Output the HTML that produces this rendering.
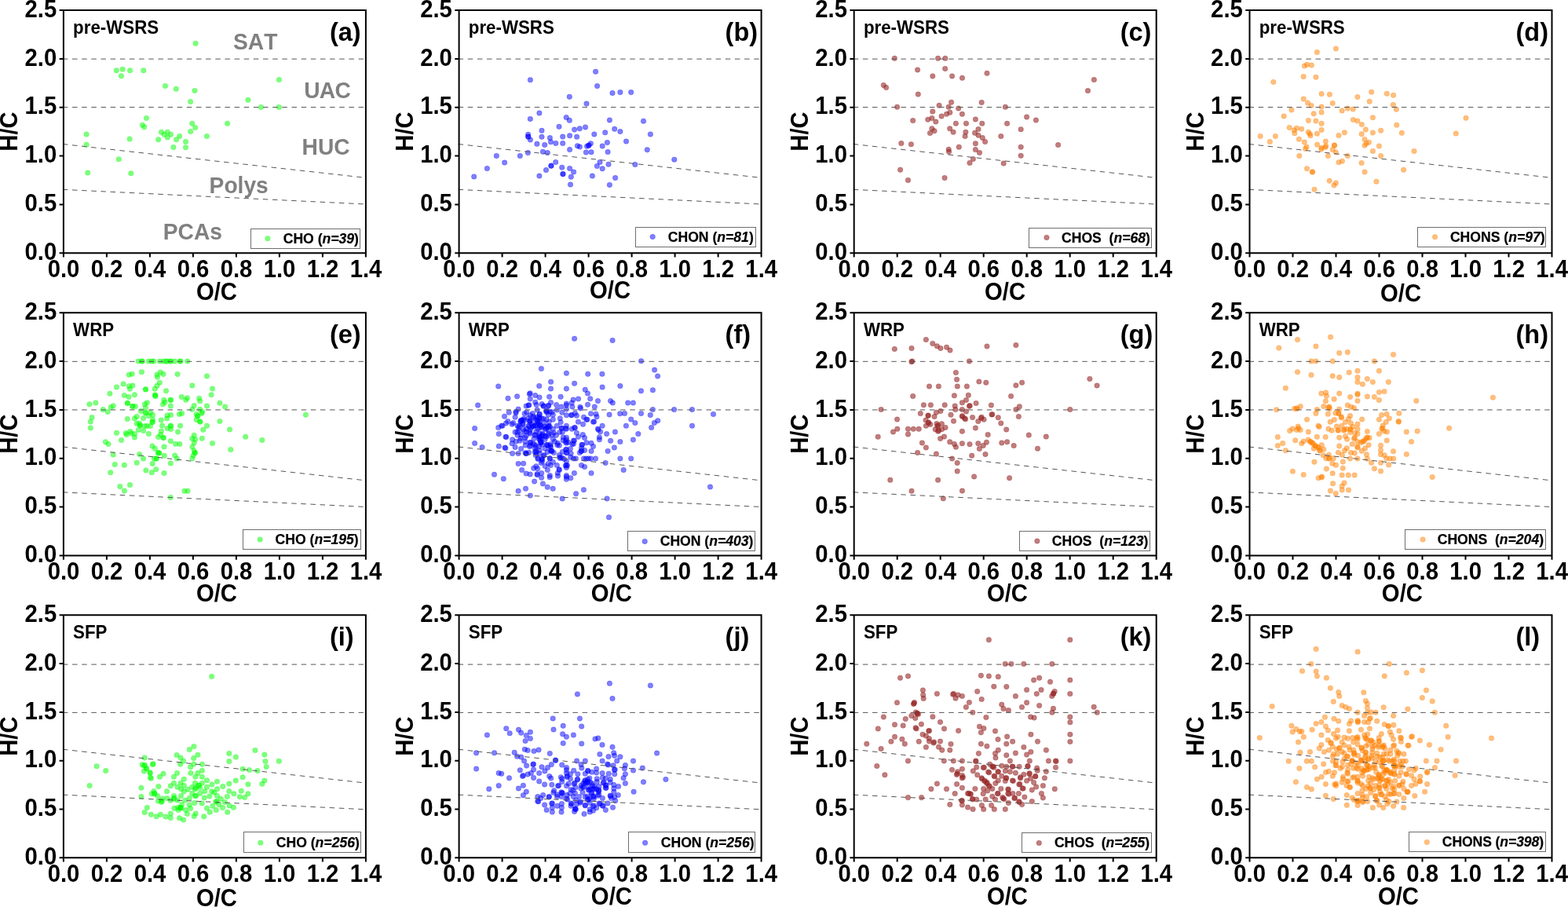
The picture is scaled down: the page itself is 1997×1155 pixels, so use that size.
<!DOCTYPE html>
<html lang="en"><head><meta charset="utf-8"><title>Van Krevelen diagrams</title>
<style>html,body{margin:0;padding:0;background:#fff}body{width:1997px;height:1155px;overflow:hidden}svg{display:block}text{font-family:"Liberation Sans",Arial,sans-serif;font-weight:bold;fill:#000;font-kerning:none}.t{font-size:29.3px}.tl{font-size:22.3px}.tg{font-size:32.5px}.lg{font-size:17.6px;stroke:#000;stroke-width:.2px}.rg{font-size:28.2px;fill:#808080;font-kerning:none}.ax{stroke:#000;stroke-width:2;fill:none}.d{stroke:#555;stroke-width:1;stroke-dasharray:6.5 5.65;fill:none}.lb{fill:#fff;stroke:#6e6e6e;stroke-width:1}</style></head><body>
<svg width="1997" height="1155" viewBox="0 0 1997 1155">
<rect width="1997" height="1155" fill="#fff"/>
<g id="panel-a">
<text class="rg" transform="translate(297 62.7) scale(1 1.04)">SAT</text>
<text class="rg" transform="translate(387.2 124.7) scale(1 1.04)" letter-spacing="-0.75">UAC</text>
<text class="rg" transform="translate(384.6 196.7) scale(1 1.04)">HUC</text>
<text class="rg" transform="translate(266.6 245.7) scale(1 1.04)">Polys</text>
<text class="rg" transform="translate(207.8 304.7) scale(1 1.04)">PCAs</text>
<g fill="#00ff00" fill-opacity="0.5" stroke="#00ff00" stroke-opacity="0.5" stroke-width="0.5">
<circle cx="249.1" cy="55.3" r="3.25"/><circle cx="148.3" cy="89.8" r="3.25"/><circle cx="156.1" cy="88.2" r="3.25"/><circle cx="165.6" cy="89.8" r="3.25"/><circle cx="154.4" cy="96.7" r="3.25"/><circle cx="182.8" cy="89.8" r="3.25"/><circle cx="210.5" cy="109.4" r="3.25"/><circle cx="224.3" cy="113.2" r="3.25"/><circle cx="248.0" cy="115.4" r="3.25"/><circle cx="355.4" cy="101.6" r="3.25"/><circle cx="242.6" cy="129.4" r="3.25"/><circle cx="315.9" cy="127.3" r="3.25"/><circle cx="332.5" cy="136.4" r="3.25"/><circle cx="355.4" cy="136.4" r="3.25"/><circle cx="186.5" cy="150.4" r="3.25"/><circle cx="181.4" cy="159.3" r="3.25"/><circle cx="183.7" cy="161.8" r="3.25"/><circle cx="244.7" cy="157.2" r="3.25"/><circle cx="248.6" cy="162.6" r="3.25"/><circle cx="289.6" cy="157.3" r="3.25"/><circle cx="242.7" cy="167.4" r="3.25"/><circle cx="110.1" cy="171.0" r="3.25"/><circle cx="205.5" cy="168.2" r="3.25"/><circle cx="213.3" cy="168.2" r="3.25"/><circle cx="209.1" cy="171.2" r="3.25"/><circle cx="217.4" cy="171.2" r="3.25"/><circle cx="213.3" cy="174.9" r="3.25"/><circle cx="228.7" cy="173.4" r="3.25"/><circle cx="263.4" cy="173.6" r="3.25"/><circle cx="165.1" cy="176.9" r="3.25"/><circle cx="201.6" cy="177.7" r="3.25"/><circle cx="224.6" cy="177.7" r="3.25"/><circle cx="236.5" cy="180.4" r="3.25"/><circle cx="110.1" cy="184.3" r="3.25"/><circle cx="220.9" cy="187.6" r="3.25"/><circle cx="236.5" cy="187.8" r="3.25"/><circle cx="151.3" cy="202.8" r="3.25"/><circle cx="111.7" cy="220.1" r="3.25"/><circle cx="166.8" cy="220.8" r="3.25"/>
</g>
<path class="d" d="M79.9 75.12H465.9M79.9 136.59H465.9M79.9 183.48L465.9 226.38M79.9 241.34L465.9 260.01"/>
<path class="ax" d="M80.9 13.1H465.9V322.2H80.9ZM80.9 322.2v5.3M135.9 322.2v5.3M190.9 322.2v5.3M245.9 322.2v5.3M300.9 322.2v5.3M355.9 322.2v5.3M410.9 322.2v5.3M465.9 322.2v5.3M80.9 322.2h-5.3M80.9 260.4h-5.3M80.9 198.6h-5.3M80.9 136.7h-5.3M80.9 74.9h-5.3M80.9 13.1h-5.3"/>
<text class="t" text-anchor="middle" transform="translate(81 352.6) scale(1 1.04)">0.0</text>
<text class="t" text-anchor="middle" transform="translate(136 352.6) scale(1 1.04)">0.2</text>
<text class="t" text-anchor="middle" transform="translate(191 352.6) scale(1 1.04)">0.4</text>
<text class="t" text-anchor="middle" transform="translate(246 352.6) scale(1 1.04)">0.6</text>
<text class="t" text-anchor="middle" transform="translate(301 352.6) scale(1 1.04)">0.8</text>
<text class="t" text-anchor="middle" transform="translate(356 352.6) scale(1 1.04)">1.0</text>
<text class="t" text-anchor="middle" transform="translate(411 352.6) scale(1 1.04)">1.2</text>
<text class="t" text-anchor="middle" transform="translate(466 352.6) scale(1 1.04)">1.4</text>
<text class="t" text-anchor="end" transform="translate(72.2 330.9) scale(1 1.04)">0.0</text>
<text class="t" text-anchor="end" transform="translate(72.2 269.08) scale(1 1.04)">0.5</text>
<text class="t" text-anchor="end" transform="translate(72.2 207.26) scale(1 1.04)">1.0</text>
<text class="t" text-anchor="end" transform="translate(72.2 145.44) scale(1 1.04)">1.5</text>
<text class="t" text-anchor="end" transform="translate(72.2 83.62) scale(1 1.04)">2.0</text>
<text class="t" text-anchor="end" transform="translate(72.2 21.8) scale(1 1.04)">2.5</text>
<text class="t" text-anchor="middle" transform="translate(275.95 382) scale(1 1.04)">O/C</text>
<text class="t" text-anchor="middle" transform="translate(22.2 167.45) rotate(-90) scale(1 1.04)">H/C</text>
<text class="tl" transform="translate(93.1 42.8) scale(1 1.04)">pre-WSRS</text>
<text class="tg" transform="translate(419.9 52.2)">(a)</text>
<rect class="lb" x="319.5" y="291.5" width="139" height="25"/>
<circle cx="340.9" cy="303.7" r="3.25" fill="#00ff00" fill-opacity="0.5" stroke="#00ff00" stroke-opacity="0.5" stroke-width="0.5"/>
<text class="lg" transform="translate(360.7 310) scale(1 1.04)">CHO&#160;(<tspan font-style="italic">n=39</tspan>)</text>
</g>
<g id="panel-b">
<g fill="#0000ff" fill-opacity="0.5" stroke="#0000ff" stroke-opacity="0.5" stroke-width="0.5">
<circle cx="758.6" cy="91.2" r="3.25"/><circle cx="675.4" cy="101.8" r="3.25"/><circle cx="760.6" cy="109.6" r="3.25"/><circle cx="780.0" cy="118.4" r="3.25"/><circle cx="789.9" cy="117.6" r="3.25"/><circle cx="803.7" cy="117.6" r="3.25"/><circle cx="725.3" cy="123.2" r="3.25"/><circle cx="747.0" cy="132.1" r="3.25"/><circle cx="686.9" cy="144.0" r="3.25"/><circle cx="675.3" cy="151.4" r="3.25"/><circle cx="721.2" cy="149.6" r="3.25"/><circle cx="725.3" cy="153.3" r="3.25"/><circle cx="776.4" cy="152.9" r="3.25"/><circle cx="819.5" cy="154.2" r="3.25"/><circle cx="712.0" cy="161.3" r="3.25"/><circle cx="731.6" cy="165.1" r="3.25"/><circle cx="738.3" cy="163.7" r="3.25"/><circle cx="745.5" cy="161.9" r="3.25"/><circle cx="782.7" cy="164.3" r="3.25"/><circle cx="789.9" cy="167.5" r="3.25"/><circle cx="690.0" cy="166.3" r="3.25"/><circle cx="770.7" cy="168.8" r="3.25"/><circle cx="756.8" cy="170.9" r="3.25"/><circle cx="828.4" cy="170.9" r="3.25"/><circle cx="672.6" cy="171.3" r="3.25"/><circle cx="672.6" cy="174.0" r="3.25"/><circle cx="672.9" cy="174.3" r="3.25"/><circle cx="675.4" cy="178.0" r="3.25"/><circle cx="690.0" cy="174.3" r="3.25"/><circle cx="700.4" cy="175.6" r="3.25"/><circle cx="701.5" cy="180.7" r="3.25"/><circle cx="716.7" cy="174.1" r="3.25"/><circle cx="725.6" cy="172.8" r="3.25"/><circle cx="734.6" cy="174.3" r="3.25"/><circle cx="797.5" cy="180.0" r="3.25"/><circle cx="773.4" cy="181.5" r="3.25"/><circle cx="683.9" cy="183.3" r="3.25"/><circle cx="693.7" cy="184.4" r="3.25"/><circle cx="707.8" cy="182.4" r="3.25"/><circle cx="716.7" cy="182.4" r="3.25"/><circle cx="752.4" cy="182.7" r="3.25"/><circle cx="749.7" cy="185.3" r="3.25"/><circle cx="750.0" cy="185.0" r="3.25"/><circle cx="747.5" cy="186.3" r="3.25"/><circle cx="735.4" cy="185.7" r="3.25"/><circle cx="738.4" cy="186.9" r="3.25"/><circle cx="767.2" cy="186.0" r="3.25"/><circle cx="725.6" cy="190.5" r="3.25"/><circle cx="824.3" cy="190.7" r="3.25"/><circle cx="672.4" cy="194.6" r="3.25"/><circle cx="691.4" cy="193.2" r="3.25"/><circle cx="697.3" cy="194.6" r="3.25"/><circle cx="746.4" cy="194.0" r="3.25"/><circle cx="753.0" cy="193.7" r="3.25"/><circle cx="774.1" cy="193.5" r="3.25"/><circle cx="632.3" cy="198.4" r="3.25"/><circle cx="662.3" cy="198.4" r="3.25"/><circle cx="858.8" cy="203.2" r="3.25"/><circle cx="642.6" cy="207.1" r="3.25"/><circle cx="707.7" cy="206.4" r="3.25"/><circle cx="701.8" cy="211.3" r="3.25"/><circle cx="702.1" cy="211.0" r="3.25"/><circle cx="764.0" cy="206.5" r="3.25"/><circle cx="775.0" cy="209.2" r="3.25"/><circle cx="808.8" cy="209.5" r="3.25"/><circle cx="760.4" cy="211.6" r="3.25"/><circle cx="767.2" cy="214.8" r="3.25"/><circle cx="620.4" cy="214.6" r="3.25"/><circle cx="715.7" cy="213.3" r="3.25"/><circle cx="725.6" cy="214.5" r="3.25"/><circle cx="695.5" cy="216.6" r="3.25"/><circle cx="730.6" cy="219.0" r="3.25"/><circle cx="716.9" cy="221.7" r="3.25"/><circle cx="717.0" cy="221.4" r="3.25"/><circle cx="603.7" cy="224.9" r="3.25"/><circle cx="686.9" cy="224.1" r="3.25"/><circle cx="727.3" cy="225.2" r="3.25"/><circle cx="754.4" cy="224.1" r="3.25"/><circle cx="783.6" cy="226.5" r="3.25"/><circle cx="726.5" cy="235.1" r="3.25"/><circle cx="776.4" cy="235.4" r="3.25"/>
</g>
<path class="d" d="M583.6 75.12H969.6M583.6 136.59H969.6M583.6 183.48L969.6 226.38M583.6 241.34L969.6 260.01"/>
<path class="ax" d="M584.6 13.1H969.6V322.2H584.6ZM584.6 322.2v5.3M639.6 322.2v5.3M694.6 322.2v5.3M749.6 322.2v5.3M804.6 322.2v5.3M859.6 322.2v5.3M914.6 322.2v5.3M969.6 322.2v5.3M584.6 322.2h-5.3M584.6 260.4h-5.3M584.6 198.6h-5.3M584.6 136.7h-5.3M584.6 74.9h-5.3M584.6 13.1h-5.3"/>
<text class="t" text-anchor="middle" transform="translate(584.7 352.6) scale(1 1.04)">0.0</text>
<text class="t" text-anchor="middle" transform="translate(639.7 352.6) scale(1 1.04)">0.2</text>
<text class="t" text-anchor="middle" transform="translate(694.7 352.6) scale(1 1.04)">0.4</text>
<text class="t" text-anchor="middle" transform="translate(749.7 352.6) scale(1 1.04)">0.6</text>
<text class="t" text-anchor="middle" transform="translate(804.7 352.6) scale(1 1.04)">0.8</text>
<text class="t" text-anchor="middle" transform="translate(859.7 352.6) scale(1 1.04)">1.0</text>
<text class="t" text-anchor="middle" transform="translate(914.7 352.6) scale(1 1.04)">1.2</text>
<text class="t" text-anchor="middle" transform="translate(969.7 352.6) scale(1 1.04)">1.4</text>
<text class="t" text-anchor="end" transform="translate(575.9 330.9) scale(1 1.04)">0.0</text>
<text class="t" text-anchor="end" transform="translate(575.9 269.08) scale(1 1.04)">0.5</text>
<text class="t" text-anchor="end" transform="translate(575.9 207.26) scale(1 1.04)">1.0</text>
<text class="t" text-anchor="end" transform="translate(575.9 145.44) scale(1 1.04)">1.5</text>
<text class="t" text-anchor="end" transform="translate(575.9 83.62) scale(1 1.04)">2.0</text>
<text class="t" text-anchor="end" transform="translate(575.9 21.8) scale(1 1.04)">2.5</text>
<text class="t" text-anchor="middle" transform="translate(777 380) scale(1 1.04)">O/C</text>
<text class="t" text-anchor="middle" transform="translate(525.9 167.45) rotate(-90) scale(1 1.04)">H/C</text>
<text class="tl" transform="translate(596.8 42.8) scale(1 1.04)">pre-WSRS</text>
<text class="tg" transform="translate(923.6 52.2)">(b)</text>
<rect class="lb" x="809.5" y="289.5" width="153" height="25"/>
<circle cx="831.2" cy="301.6" r="3.25" fill="#0000ff" fill-opacity="0.5" stroke="#0000ff" stroke-opacity="0.5" stroke-width="0.5"/>
<text class="lg" transform="translate(850.8 307.7) scale(1 1.04)">CHON&#160;(<tspan font-style="italic">n=81</tspan>)</text>
</g>
<g id="panel-c">
<g fill="#962626" fill-opacity="0.6" stroke="#962626" stroke-opacity="0.6" stroke-width="0.5">
<circle cx="1139.3" cy="74.3" r="3.25"/><circle cx="1194.6" cy="74.3" r="3.25"/><circle cx="1203.8" cy="74.3" r="3.25"/><circle cx="1168.6" cy="88.9" r="3.25"/><circle cx="1203.7" cy="87.4" r="3.25"/><circle cx="1187.8" cy="96.9" r="3.25"/><circle cx="1212.6" cy="96.9" r="3.25"/><circle cx="1225.5" cy="99.3" r="3.25"/><circle cx="1257.0" cy="93.3" r="3.25"/><circle cx="1393.4" cy="101.6" r="3.25"/><circle cx="1385.5" cy="115.6" r="3.25"/><circle cx="1125.3" cy="108.5" r="3.25"/><circle cx="1128.6" cy="111.4" r="3.25"/><circle cx="1169.3" cy="120.1" r="3.25"/><circle cx="1211.6" cy="130.2" r="3.25"/><circle cx="1250.2" cy="130.4" r="3.25"/><circle cx="1196.1" cy="134.3" r="3.25"/><circle cx="1142.6" cy="136.2" r="3.25"/><circle cx="1208.2" cy="136.2" r="3.25"/><circle cx="1220.7" cy="138.0" r="3.25"/><circle cx="1280.4" cy="136.2" r="3.25"/><circle cx="1187.8" cy="142.0" r="3.25"/><circle cx="1209.8" cy="143.3" r="3.25"/><circle cx="1205.5" cy="145.3" r="3.25"/><circle cx="1225.4" cy="145.3" r="3.25"/><circle cx="1199.1" cy="148.1" r="3.25"/><circle cx="1186.9" cy="150.4" r="3.25"/><circle cx="1181.8" cy="152.2" r="3.25"/><circle cx="1191.8" cy="154.9" r="3.25"/><circle cx="1162.7" cy="153.6" r="3.25"/><circle cx="1242.4" cy="151.9" r="3.25"/><circle cx="1307.6" cy="149.0" r="3.25"/><circle cx="1319.4" cy="153.0" r="3.25"/><circle cx="1217.4" cy="157.2" r="3.25"/><circle cx="1230.5" cy="157.2" r="3.25"/><circle cx="1250.8" cy="157.3" r="3.25"/><circle cx="1282.6" cy="157.3" r="3.25"/><circle cx="1300.2" cy="164.7" r="3.25"/><circle cx="1186.9" cy="163.8" r="3.25"/><circle cx="1190.0" cy="166.7" r="3.25"/><circle cx="1184.5" cy="169.5" r="3.25"/><circle cx="1209.7" cy="163.8" r="3.25"/><circle cx="1214.1" cy="168.2" r="3.25"/><circle cx="1246.0" cy="164.6" r="3.25"/><circle cx="1229.9" cy="168.2" r="3.25"/><circle cx="1241.6" cy="169.2" r="3.25"/><circle cx="1229.1" cy="173.5" r="3.25"/><circle cx="1246.0" cy="172.2" r="3.25"/><circle cx="1251.3" cy="175.4" r="3.25"/><circle cx="1274.8" cy="173.5" r="3.25"/><circle cx="1254.6" cy="180.5" r="3.25"/><circle cx="1147.8" cy="182.6" r="3.25"/><circle cx="1160.4" cy="183.7" r="3.25"/><circle cx="1242.4" cy="182.8" r="3.25"/><circle cx="1221.3" cy="187.2" r="3.25"/><circle cx="1300.2" cy="187.2" r="3.25"/><circle cx="1347.6" cy="184.6" r="3.25"/><circle cx="1208.2" cy="190.3" r="3.25"/><circle cx="1208.6" cy="193.3" r="3.25"/><circle cx="1242.4" cy="190.6" r="3.25"/><circle cx="1247.5" cy="194.4" r="3.25"/><circle cx="1300.2" cy="198.3" r="3.25"/><circle cx="1239.4" cy="202.5" r="3.25"/><circle cx="1235.0" cy="207.4" r="3.25"/><circle cx="1278.2" cy="208.1" r="3.25"/><circle cx="1146.6" cy="216.2" r="3.25"/><circle cx="1203.1" cy="226.5" r="3.25"/><circle cx="1156.5" cy="229.5" r="3.25"/>
</g>
<path class="d" d="M1086.7 75.12H1472.7M1086.7 136.59H1472.7M1086.7 183.48L1472.7 226.38M1086.7 241.34L1472.7 260.01"/>
<path class="ax" d="M1087.7 13.1H1472.7V322.2H1087.7ZM1087.7 322.2v5.3M1142.7 322.2v5.3M1197.7 322.2v5.3M1252.7 322.2v5.3M1307.7 322.2v5.3M1362.7 322.2v5.3M1417.7 322.2v5.3M1472.7 322.2v5.3M1087.7 322.2h-5.3M1087.7 260.4h-5.3M1087.7 198.6h-5.3M1087.7 136.7h-5.3M1087.7 74.9h-5.3M1087.7 13.1h-5.3"/>
<text class="t" text-anchor="middle" transform="translate(1087.8 352.6) scale(1 1.04)">0.0</text>
<text class="t" text-anchor="middle" transform="translate(1142.8 352.6) scale(1 1.04)">0.2</text>
<text class="t" text-anchor="middle" transform="translate(1197.8 352.6) scale(1 1.04)">0.4</text>
<text class="t" text-anchor="middle" transform="translate(1252.8 352.6) scale(1 1.04)">0.6</text>
<text class="t" text-anchor="middle" transform="translate(1307.8 352.6) scale(1 1.04)">0.8</text>
<text class="t" text-anchor="middle" transform="translate(1362.8 352.6) scale(1 1.04)">1.0</text>
<text class="t" text-anchor="middle" transform="translate(1417.8 352.6) scale(1 1.04)">1.2</text>
<text class="t" text-anchor="middle" transform="translate(1472.8 352.6) scale(1 1.04)">1.4</text>
<text class="t" text-anchor="end" transform="translate(1079 330.9) scale(1 1.04)">0.0</text>
<text class="t" text-anchor="end" transform="translate(1079 269.08) scale(1 1.04)">0.5</text>
<text class="t" text-anchor="end" transform="translate(1079 207.26) scale(1 1.04)">1.0</text>
<text class="t" text-anchor="end" transform="translate(1079 145.44) scale(1 1.04)">1.5</text>
<text class="t" text-anchor="end" transform="translate(1079 83.62) scale(1 1.04)">2.0</text>
<text class="t" text-anchor="end" transform="translate(1079 21.8) scale(1 1.04)">2.5</text>
<text class="t" text-anchor="middle" transform="translate(1280 382) scale(1 1.04)">O/C</text>
<text class="t" text-anchor="middle" transform="translate(1029 167.45) rotate(-90) scale(1 1.04)">H/C</text>
<text class="tl" transform="translate(1099.9 42.8) scale(1 1.04)">pre-WSRS</text>
<text class="tg" transform="translate(1426.7 52.2)">(c)</text>
<rect class="lb" x="1310.5" y="290.5" width="156" height="25"/>
<circle cx="1333" cy="302.4" r="3.25" fill="#962626" fill-opacity="0.6" stroke="#962626" stroke-opacity="0.6" stroke-width="0.5"/>
<text class="lg" transform="translate(1352 308.9) scale(1 1.04)">CHOS&#160;&#160;(<tspan font-style="italic">n=68</tspan>)</text>
</g>
<g id="panel-d">
<g fill="#ff7f00" fill-opacity="0.5" stroke="#ff7f00" stroke-opacity="0.5" stroke-width="0.5">
<circle cx="1701.4" cy="61.9" r="3.25"/><circle cx="1677.4" cy="66.6" r="3.25"/><circle cx="1661.4" cy="83.9" r="3.25"/><circle cx="1664.6" cy="82.2" r="3.25"/><circle cx="1670.3" cy="83.0" r="3.25"/><circle cx="1660.1" cy="97.6" r="3.25"/><circle cx="1675.9" cy="98.2" r="3.25"/><circle cx="1621.8" cy="104.4" r="3.25"/><circle cx="1683.1" cy="119.6" r="3.25"/><circle cx="1693.4" cy="120.2" r="3.25"/><circle cx="1746.7" cy="117.2" r="3.25"/><circle cx="1766.3" cy="119.3" r="3.25"/><circle cx="1774.6" cy="121.3" r="3.25"/><circle cx="1728.9" cy="123.5" r="3.25"/><circle cx="1660.2" cy="125.9" r="3.25"/><circle cx="1744.2" cy="129.3" r="3.25"/><circle cx="1665.5" cy="131.1" r="3.25"/><circle cx="1697.2" cy="131.4" r="3.25"/><circle cx="1670.0" cy="134.4" r="3.25"/><circle cx="1683.1" cy="136.0" r="3.25"/><circle cx="1774.4" cy="133.6" r="3.25"/><circle cx="1716.3" cy="138.1" r="3.25"/><circle cx="1723.2" cy="138.9" r="3.25"/><circle cx="1709.2" cy="140.9" r="3.25"/><circle cx="1778.4" cy="139.2" r="3.25"/><circle cx="1644.9" cy="140.0" r="3.25"/><circle cx="1673.2" cy="144.8" r="3.25"/><circle cx="1683.1" cy="143.1" r="3.25"/><circle cx="1635.1" cy="147.9" r="3.25"/><circle cx="1748.4" cy="149.7" r="3.25"/><circle cx="1867.0" cy="150.3" r="3.25"/><circle cx="1723.4" cy="152.6" r="3.25"/><circle cx="1728.9" cy="154.1" r="3.25"/><circle cx="1666.4" cy="153.5" r="3.25"/><circle cx="1675.9" cy="154.1" r="3.25"/><circle cx="1683.1" cy="157.3" r="3.25"/><circle cx="1734.4" cy="158.6" r="3.25"/><circle cx="1778.8" cy="159.2" r="3.25"/><circle cx="1642.2" cy="162.4" r="3.25"/><circle cx="1651.5" cy="163.2" r="3.25"/><circle cx="1648.2" cy="165.7" r="3.25"/><circle cx="1657.7" cy="164.2" r="3.25"/><circle cx="1648.8" cy="169.8" r="3.25"/><circle cx="1683.1" cy="165.4" r="3.25"/><circle cx="1739.3" cy="165.1" r="3.25"/><circle cx="1758.6" cy="166.2" r="3.25"/><circle cx="1712.4" cy="168.7" r="3.25"/><circle cx="1748.4" cy="169.0" r="3.25"/><circle cx="1785.3" cy="169.3" r="3.25"/><circle cx="1854.3" cy="170.1" r="3.25"/><circle cx="1666.3" cy="168.3" r="3.25"/><circle cx="1668.2" cy="170.5" r="3.25"/><circle cx="1669.0" cy="172.8" r="3.25"/><circle cx="1677.4" cy="170.2" r="3.25"/><circle cx="1705.0" cy="172.5" r="3.25"/><circle cx="1734.2" cy="170.8" r="3.25"/><circle cx="1605.1" cy="173.5" r="3.25"/><circle cx="1624.4" cy="173.5" r="3.25"/><circle cx="1617.4" cy="180.5" r="3.25"/><circle cx="1654.4" cy="177.3" r="3.25"/><circle cx="1661.3" cy="181.1" r="3.25"/><circle cx="1738.0" cy="177.6" r="3.25"/><circle cx="1743.4" cy="181.2" r="3.25"/><circle cx="1740.1" cy="182.7" r="3.25"/><circle cx="1738.1" cy="185.3" r="3.25"/><circle cx="1688.3" cy="180.0" r="3.25"/><circle cx="1677.6" cy="184.2" r="3.25"/><circle cx="1699.4" cy="185.2" r="3.25"/><circle cx="1699.6" cy="185.0" r="3.25"/><circle cx="1688.7" cy="185.9" r="3.25"/><circle cx="1688.0" cy="187.4" r="3.25"/><circle cx="1683.1" cy="188.2" r="3.25"/><circle cx="1682.8" cy="190.1" r="3.25"/><circle cx="1664.0" cy="187.1" r="3.25"/><circle cx="1662.5" cy="189.4" r="3.25"/><circle cx="1756.4" cy="185.9" r="3.25"/><circle cx="1697.3" cy="190.6" r="3.25"/><circle cx="1701.4" cy="194.0" r="3.25"/><circle cx="1748.4" cy="192.4" r="3.25"/><circle cx="1801.0" cy="192.4" r="3.25"/><circle cx="1654.8" cy="198.4" r="3.25"/><circle cx="1691.4" cy="198.6" r="3.25"/><circle cx="1716.3" cy="198.4" r="3.25"/><circle cx="1758.6" cy="198.4" r="3.25"/><circle cx="1705.0" cy="206.8" r="3.25"/><circle cx="1709.4" cy="205.3" r="3.25"/><circle cx="1734.1" cy="207.5" r="3.25"/><circle cx="1664.5" cy="214.7" r="3.25"/><circle cx="1671.4" cy="218.9" r="3.25"/><circle cx="1671.5" cy="219.1" r="3.25"/><circle cx="1738.1" cy="218.9" r="3.25"/><circle cx="1787.6" cy="216.3" r="3.25"/><circle cx="1693.2" cy="230.3" r="3.25"/><circle cx="1701.4" cy="233.0" r="3.25"/><circle cx="1699.0" cy="236.0" r="3.25"/><circle cx="1752.9" cy="231.2" r="3.25"/><circle cx="1674.0" cy="241.3" r="3.25"/>
</g>
<path class="d" d="M1590.5 75.12H1976.5M1590.5 136.59H1976.5M1590.5 183.48L1976.5 226.38M1590.5 241.34L1976.5 260.01"/>
<path class="ax" d="M1591.5 13.1H1976.5V322.2H1591.5ZM1591.5 322.2v5.3M1646.5 322.2v5.3M1701.5 322.2v5.3M1756.5 322.2v5.3M1811.5 322.2v5.3M1866.5 322.2v5.3M1921.5 322.2v5.3M1976.5 322.2v5.3M1591.5 322.2h-5.3M1591.5 260.4h-5.3M1591.5 198.6h-5.3M1591.5 136.7h-5.3M1591.5 74.9h-5.3M1591.5 13.1h-5.3"/>
<text class="t" text-anchor="middle" transform="translate(1591.6 352.6) scale(1 1.04)">0.0</text>
<text class="t" text-anchor="middle" transform="translate(1646.6 352.6) scale(1 1.04)">0.2</text>
<text class="t" text-anchor="middle" transform="translate(1701.6 352.6) scale(1 1.04)">0.4</text>
<text class="t" text-anchor="middle" transform="translate(1756.6 352.6) scale(1 1.04)">0.6</text>
<text class="t" text-anchor="middle" transform="translate(1811.6 352.6) scale(1 1.04)">0.8</text>
<text class="t" text-anchor="middle" transform="translate(1866.6 352.6) scale(1 1.04)">1.0</text>
<text class="t" text-anchor="middle" transform="translate(1921.6 352.6) scale(1 1.04)">1.2</text>
<text class="t" text-anchor="middle" transform="translate(1976.6 352.6) scale(1 1.04)">1.4</text>
<text class="t" text-anchor="end" transform="translate(1582.8 330.9) scale(1 1.04)">0.0</text>
<text class="t" text-anchor="end" transform="translate(1582.8 269.08) scale(1 1.04)">0.5</text>
<text class="t" text-anchor="end" transform="translate(1582.8 207.26) scale(1 1.04)">1.0</text>
<text class="t" text-anchor="end" transform="translate(1582.8 145.44) scale(1 1.04)">1.5</text>
<text class="t" text-anchor="end" transform="translate(1582.8 83.62) scale(1 1.04)">2.0</text>
<text class="t" text-anchor="end" transform="translate(1582.8 21.8) scale(1 1.04)">2.5</text>
<text class="t" text-anchor="middle" transform="translate(1784 384.1) scale(1 1.04)">O/C</text>
<text class="t" text-anchor="middle" transform="translate(1532.8 167.45) rotate(-90) scale(1 1.04)">H/C</text>
<text class="tl" transform="translate(1603.7 42.8) scale(1 1.04)">pre-WSRS</text>
<text class="tg" transform="translate(1930.5 52.2)">(d)</text>
<rect class="lb" x="1805.5" y="289.5" width="163" height="25"/>
<circle cx="1827.5" cy="301.8" r="3.25" fill="#ff7f00" fill-opacity="0.5" stroke="#ff7f00" stroke-opacity="0.5" stroke-width="0.5"/>
<text class="lg" transform="translate(1846.9 307.7) scale(1 1.04)">CHONS&#160;(<tspan font-style="italic">n=97</tspan>)</text>
</g>
<g id="panel-e">
<g fill="#00ff00" fill-opacity="0.5" stroke="#00ff00" stroke-opacity="0.5" stroke-width="0.5">
<circle cx="176.2" cy="460.1" r="3.25"/><circle cx="180.4" cy="460.1" r="3.25"/><circle cx="181.4" cy="460.1" r="3.25"/><circle cx="189.4" cy="460.1" r="3.25"/><circle cx="193.3" cy="460.1" r="3.25"/><circle cx="195.7" cy="460.1" r="3.25"/><circle cx="203.5" cy="460.1" r="3.25"/><circle cx="208.3" cy="460.1" r="3.25"/><circle cx="211.5" cy="460.1" r="3.25"/><circle cx="212.8" cy="460.1" r="3.25"/><circle cx="216.8" cy="460.1" r="3.25"/><circle cx="217.6" cy="460.1" r="3.25"/><circle cx="222.6" cy="460.1" r="3.25"/><circle cx="229.1" cy="460.1" r="3.25"/><circle cx="230.1" cy="460.1" r="3.25"/><circle cx="238.7" cy="460.1" r="3.25"/><circle cx="180.4" cy="473.8" r="3.25"/><circle cx="164.3" cy="477.3" r="3.25"/><circle cx="168.2" cy="476.3" r="3.25"/><circle cx="200.0" cy="477.1" r="3.25"/><circle cx="204.3" cy="474.1" r="3.25"/><circle cx="208.0" cy="476.4" r="3.25"/><circle cx="200.5" cy="480.2" r="3.25"/><circle cx="226.1" cy="476.4" r="3.25"/><circle cx="263.5" cy="478.9" r="3.25"/><circle cx="157.1" cy="488.9" r="3.25"/><circle cx="148.5" cy="492.9" r="3.25"/><circle cx="164.3" cy="491.7" r="3.25"/><circle cx="168.9" cy="490.9" r="3.25"/><circle cx="165.5" cy="495.2" r="3.25"/><circle cx="203.3" cy="487.2" r="3.25"/><circle cx="200.0" cy="491.2" r="3.25"/><circle cx="197.3" cy="495.2" r="3.25"/><circle cx="185.4" cy="495.7" r="3.25"/><circle cx="185.6" cy="496.0" r="3.25"/><circle cx="211.5" cy="497.8" r="3.25"/><circle cx="244.8" cy="490.9" r="3.25"/><circle cx="270.5" cy="495.0" r="3.25"/><circle cx="139.9" cy="501.3" r="3.25"/><circle cx="158.3" cy="503.5" r="3.25"/><circle cx="164.1" cy="505.4" r="3.25"/><circle cx="171.4" cy="502.8" r="3.25"/><circle cx="197.7" cy="503.3" r="3.25"/><circle cx="197.5" cy="503.1" r="3.25"/><circle cx="198.0" cy="504.8" r="3.25"/><circle cx="269.1" cy="502.8" r="3.25"/><circle cx="231.3" cy="505.4" r="3.25"/><circle cx="238.5" cy="506.8" r="3.25"/><circle cx="236.7" cy="509.3" r="3.25"/><circle cx="253.7" cy="507.3" r="3.25"/><circle cx="254.7" cy="510.8" r="3.25"/><circle cx="208.8" cy="509.3" r="3.25"/><circle cx="217.3" cy="509.3" r="3.25"/><circle cx="217.4" cy="509.5" r="3.25"/><circle cx="210.0" cy="512.3" r="3.25"/><circle cx="207.5" cy="514.8" r="3.25"/><circle cx="217.3" cy="517.0" r="3.25"/><circle cx="113.9" cy="514.8" r="3.25"/><circle cx="121.8" cy="512.9" r="3.25"/><circle cx="144.2" cy="516.8" r="3.25"/><circle cx="141.2" cy="518.8" r="3.25"/><circle cx="162.3" cy="513.3" r="3.25"/><circle cx="162.5" cy="513.5" r="3.25"/><circle cx="168.7" cy="517.3" r="3.25"/><circle cx="168.9" cy="517.5" r="3.25"/><circle cx="172.4" cy="517.5" r="3.25"/><circle cx="187.4" cy="512.8" r="3.25"/><circle cx="184.4" cy="514.8" r="3.25"/><circle cx="185.4" cy="519.3" r="3.25"/><circle cx="247.2" cy="516.6" r="3.25"/><circle cx="263.5" cy="517.1" r="3.25"/><circle cx="279.9" cy="513.3" r="3.25"/><circle cx="286.6" cy="518.0" r="3.25"/><circle cx="244.7" cy="521.3" r="3.25"/><circle cx="254.7" cy="521.3" r="3.25"/><circle cx="257.8" cy="524.4" r="3.25"/><circle cx="256.8" cy="526.4" r="3.25"/><circle cx="131.2" cy="521.5" r="3.25"/><circle cx="137.2" cy="524.4" r="3.25"/><circle cx="179.4" cy="523.4" r="3.25"/><circle cx="185.4" cy="525.9" r="3.25"/><circle cx="185.6" cy="525.7" r="3.25"/><circle cx="191.5" cy="525.4" r="3.25"/><circle cx="194.5" cy="528.4" r="3.25"/><circle cx="189.4" cy="529.4" r="3.25"/><circle cx="174.2" cy="530.4" r="3.25"/><circle cx="171.4" cy="532.9" r="3.25"/><circle cx="162.3" cy="533.4" r="3.25"/><circle cx="182.6" cy="532.6" r="3.25"/><circle cx="213.1" cy="528.9" r="3.25"/><circle cx="217.6" cy="528.4" r="3.25"/><circle cx="212.6" cy="532.9" r="3.25"/><circle cx="228.4" cy="527.4" r="3.25"/><circle cx="231.6" cy="526.4" r="3.25"/><circle cx="250.2" cy="527.4" r="3.25"/><circle cx="251.7" cy="529.9" r="3.25"/><circle cx="251.9" cy="529.7" r="3.25"/><circle cx="250.2" cy="534.4" r="3.25"/><circle cx="254.7" cy="536.9" r="3.25"/><circle cx="254.9" cy="537.1" r="3.25"/><circle cx="205.3" cy="535.1" r="3.25"/><circle cx="194.5" cy="534.4" r="3.25"/><circle cx="194.0" cy="537.4" r="3.25"/><circle cx="194.2" cy="537.6" r="3.25"/><circle cx="117.1" cy="531.6" r="3.25"/><circle cx="115.3" cy="537.1" r="3.25"/><circle cx="115.3" cy="544.9" r="3.25"/><circle cx="174.2" cy="539.4" r="3.25"/><circle cx="177.4" cy="538.9" r="3.25"/><circle cx="178.4" cy="541.9" r="3.25"/><circle cx="178.6" cy="541.7" r="3.25"/><circle cx="184.4" cy="542.4" r="3.25"/><circle cx="187.4" cy="542.4" r="3.25"/><circle cx="191.5" cy="542.4" r="3.25"/><circle cx="206.5" cy="542.1" r="3.25"/><circle cx="217.3" cy="542.2" r="3.25"/><circle cx="217.4" cy="542.4" r="3.25"/><circle cx="213.1" cy="545.5" r="3.25"/><circle cx="217.6" cy="546.5" r="3.25"/><circle cx="229.6" cy="542.2" r="3.25"/><circle cx="263.5" cy="542.2" r="3.25"/><circle cx="279.9" cy="536.4" r="3.25"/><circle cx="258.8" cy="547.3" r="3.25"/><circle cx="226.6" cy="550.0" r="3.25"/><circle cx="176.4" cy="547.5" r="3.25"/><circle cx="182.6" cy="548.5" r="3.25"/><circle cx="205.3" cy="549.0" r="3.25"/><circle cx="189.4" cy="552.5" r="3.25"/><circle cx="148.5" cy="551.3" r="3.25"/><circle cx="160.3" cy="551.5" r="3.25"/><circle cx="161.3" cy="553.5" r="3.25"/><circle cx="165.8" cy="549.5" r="3.25"/><circle cx="167.3" cy="552.0" r="3.25"/><circle cx="171.4" cy="552.5" r="3.25"/><circle cx="171.4" cy="557.0" r="3.25"/><circle cx="204.5" cy="553.5" r="3.25"/><circle cx="201.5" cy="556.5" r="3.25"/><circle cx="208.0" cy="557.5" r="3.25"/><circle cx="208.2" cy="557.3" r="3.25"/><circle cx="247.2" cy="554.3" r="3.25"/><circle cx="244.7" cy="558.5" r="3.25"/><circle cx="248.7" cy="559.5" r="3.25"/><circle cx="257.3" cy="558.3" r="3.25"/><circle cx="292.5" cy="547.0" r="3.25"/><circle cx="312.7" cy="556.2" r="3.25"/><circle cx="333.8" cy="560.5" r="3.25"/><circle cx="389.4" cy="528.2" r="3.25"/><circle cx="134.4" cy="562.7" r="3.25"/><circle cx="138.0" cy="565.5" r="3.25"/><circle cx="154.5" cy="560.5" r="3.25"/><circle cx="217.3" cy="561.7" r="3.25"/><circle cx="223.6" cy="565.3" r="3.25"/><circle cx="228.8" cy="565.5" r="3.25"/><circle cx="270.5" cy="564.5" r="3.25"/><circle cx="247.2" cy="564.0" r="3.25"/><circle cx="244.9" cy="569.1" r="3.25"/><circle cx="194.0" cy="568.1" r="3.25"/><circle cx="197.5" cy="571.3" r="3.25"/><circle cx="209.0" cy="568.9" r="3.25"/><circle cx="202.5" cy="576.8" r="3.25"/><circle cx="202.7" cy="577.0" r="3.25"/><circle cx="201.0" cy="576.6" r="3.25"/><circle cx="209.2" cy="580.3" r="3.25"/><circle cx="177.6" cy="578.4" r="3.25"/><circle cx="144.2" cy="579.1" r="3.25"/><circle cx="182.6" cy="584.1" r="3.25"/><circle cx="199.0" cy="583.9" r="3.25"/><circle cx="199.2" cy="584.1" r="3.25"/><circle cx="196.5" cy="584.1" r="3.25"/><circle cx="222.6" cy="580.1" r="3.25"/><circle cx="225.3" cy="584.1" r="3.25"/><circle cx="248.2" cy="576.6" r="3.25"/><circle cx="248.4" cy="576.8" r="3.25"/><circle cx="246.2" cy="580.1" r="3.25"/><circle cx="247.2" cy="574.1" r="3.25"/><circle cx="244.9" cy="583.9" r="3.25"/><circle cx="174.2" cy="589.2" r="3.25"/><circle cx="194.2" cy="590.4" r="3.25"/><circle cx="217.3" cy="589.9" r="3.25"/><circle cx="146.3" cy="591.4" r="3.25"/><circle cx="158.3" cy="592.2" r="3.25"/><circle cx="140.7" cy="601.7" r="3.25"/><circle cx="185.9" cy="598.9" r="3.25"/><circle cx="198.7" cy="597.7" r="3.25"/><circle cx="193.3" cy="601.7" r="3.25"/><circle cx="209.0" cy="602.4" r="3.25"/><circle cx="152.8" cy="619.6" r="3.25"/><circle cx="165.5" cy="617.5" r="3.25"/><circle cx="158.4" cy="625.1" r="3.25"/><circle cx="235.0" cy="625.3" r="3.25"/><circle cx="239.0" cy="625.3" r="3.25"/><circle cx="217.3" cy="633.4" r="3.25"/><circle cx="293.8" cy="572.6" r="3.25"/>
</g>
<path class="d" d="M79.9 460.32H465.9M79.9 521.94H465.9M79.9 568.98L465.9 611.88M79.9 626.84L465.9 645.51"/>
<path class="ax" d="M80.9 398.2H465.9V707.4H80.9ZM80.9 707.4v5.3M135.9 707.4v5.3M190.9 707.4v5.3M245.9 707.4v5.3M300.9 707.4v5.3M355.9 707.4v5.3M410.9 707.4v5.3M465.9 707.4v5.3M80.9 707.4h-5.3M80.9 645.5h-5.3M80.9 583.7h-5.3M80.9 521.9h-5.3M80.9 460.1h-5.3M80.9 398.2h-5.3"/>
<text class="t" text-anchor="middle" transform="translate(81 737.75) scale(1 1.04)">0.0</text>
<text class="t" text-anchor="middle" transform="translate(136 737.75) scale(1 1.04)">0.2</text>
<text class="t" text-anchor="middle" transform="translate(191 737.75) scale(1 1.04)">0.4</text>
<text class="t" text-anchor="middle" transform="translate(246 737.75) scale(1 1.04)">0.6</text>
<text class="t" text-anchor="middle" transform="translate(301 737.75) scale(1 1.04)">0.8</text>
<text class="t" text-anchor="middle" transform="translate(356 737.75) scale(1 1.04)">1.0</text>
<text class="t" text-anchor="middle" transform="translate(411 737.75) scale(1 1.04)">1.2</text>
<text class="t" text-anchor="middle" transform="translate(466 737.75) scale(1 1.04)">1.4</text>
<text class="t" text-anchor="end" transform="translate(72.2 716.05) scale(1 1.04)">0.0</text>
<text class="t" text-anchor="end" transform="translate(72.2 654.23) scale(1 1.04)">0.5</text>
<text class="t" text-anchor="end" transform="translate(72.2 592.41) scale(1 1.04)">1.0</text>
<text class="t" text-anchor="end" transform="translate(72.2 530.59) scale(1 1.04)">1.5</text>
<text class="t" text-anchor="end" transform="translate(72.2 468.77) scale(1 1.04)">2.0</text>
<text class="t" text-anchor="end" transform="translate(72.2 406.95) scale(1 1.04)">2.5</text>
<text class="t" text-anchor="middle" transform="translate(275.95 766) scale(1 1.04)">O/C</text>
<text class="t" text-anchor="middle" transform="translate(22.2 552.6) rotate(-90) scale(1 1.04)">H/C</text>
<text class="tl" transform="translate(93.1 427.95) scale(1 1.04)">WRP</text>
<text class="tg" transform="translate(419.9 437.35)">(e)</text>
<rect class="lb" x="309.5" y="674.5" width="150" height="25"/>
<circle cx="331.2" cy="687.1" r="3.25" fill="#00ff00" fill-opacity="0.5" stroke="#00ff00" stroke-opacity="0.5" stroke-width="0.5"/>
<text class="lg" transform="translate(350.6 693) scale(1 1.04)">CHO&#160;(<tspan font-style="italic">n=195</tspan>)</text>
</g>
<g id="panel-f">
<g fill="#0000ff" fill-opacity="0.5" stroke="#0000ff" stroke-opacity="0.5" stroke-width="0.5">
<circle cx="731.6" cy="431.2" r="3.25"/><circle cx="780.1" cy="433.4" r="3.25"/><circle cx="816.6" cy="459.7" r="3.25"/><circle cx="689.4" cy="469.5" r="3.25"/><circle cx="721.4" cy="475.3" r="3.25"/><circle cx="748.7" cy="476.3" r="3.25"/><circle cx="766.9" cy="476.3" r="3.25"/><circle cx="833.6" cy="471.1" r="3.25"/><circle cx="837.6" cy="478.9" r="3.25"/><circle cx="701.6" cy="486.3" r="3.25"/><circle cx="731.6" cy="488.3" r="3.25"/><circle cx="634.7" cy="491.9" r="3.25"/><circle cx="858.6" cy="521.6" r="3.25"/><circle cx="881.5" cy="521.6" r="3.25"/><circle cx="908.5" cy="527.4" r="3.25"/><circle cx="881.5" cy="542.2" r="3.25"/><circle cx="904.5" cy="620.1" r="3.25"/><circle cx="608.6" cy="516.0" r="3.25"/><circle cx="604.6" cy="545.4" r="3.25"/><circle cx="604.6" cy="564.4" r="3.25"/><circle cx="614.1" cy="569.6" r="3.25"/><circle cx="634.7" cy="544.6" r="3.25"/><circle cx="638.7" cy="542.2" r="3.25"/><circle cx="635.3" cy="552.6" r="3.25"/><circle cx="635.3" cy="568.2" r="3.25"/><circle cx="629.5" cy="604.3" r="3.25"/><circle cx="641.3" cy="609.7" r="3.25"/><circle cx="660.1" cy="625.3" r="3.25"/><circle cx="669.5" cy="622.3" r="3.25"/><circle cx="675.3" cy="631.1" r="3.25"/><circle cx="680.6" cy="613.1" r="3.25"/><circle cx="691.4" cy="615.9" r="3.25"/><circle cx="697.2" cy="620.3" r="3.25"/><circle cx="704.2" cy="622.3" r="3.25"/><circle cx="716.2" cy="635.1" r="3.25"/><circle cx="733.6" cy="628.7" r="3.25"/><circle cx="743.4" cy="623.7" r="3.25"/><circle cx="773.1" cy="634.9" r="3.25"/><circle cx="700.2" cy="607.7" r="3.25"/><circle cx="689.6" cy="608.3" r="3.25"/><circle cx="721.4" cy="607.3" r="3.25"/><circle cx="726.8" cy="608.7" r="3.25"/><circle cx="721.4" cy="610.3" r="3.25"/><circle cx="686.7" cy="491.5" r="3.25"/><circle cx="701.5" cy="495.0" r="3.25"/><circle cx="721.4" cy="495.0" r="3.25"/><circle cx="745.3" cy="496.2" r="3.25"/><circle cx="767.1" cy="493.0" r="3.25"/><circle cx="789.9" cy="491.5" r="3.25"/><circle cx="816.5" cy="497.8" r="3.25"/><circle cx="831.4" cy="496.8" r="3.25"/><circle cx="675.2" cy="500.8" r="3.25"/><circle cx="674.3" cy="501.7" r="3.25"/><circle cx="748.5" cy="501.0" r="3.25"/><circle cx="647.0" cy="507.3" r="3.25"/><circle cx="658.6" cy="504.8" r="3.25"/><circle cx="681.7" cy="503.6" r="3.25"/><circle cx="687.0" cy="506.1" r="3.25"/><circle cx="675.2" cy="507.9" r="3.25"/><circle cx="699.6" cy="505.3" r="3.25"/><circle cx="714.1" cy="505.3" r="3.25"/><circle cx="730.1" cy="509.1" r="3.25"/><circle cx="736.6" cy="507.9" r="3.25"/><circle cx="751.7" cy="507.8" r="3.25"/><circle cx="761.5" cy="510.6" r="3.25"/><circle cx="777.6" cy="510.6" r="3.25"/><circle cx="780.3" cy="512.9" r="3.25"/><circle cx="799.7" cy="512.9" r="3.25"/><circle cx="806.4" cy="512.9" r="3.25"/><circle cx="681.7" cy="512.3" r="3.25"/><circle cx="701.5" cy="512.6" r="3.25"/><circle cx="670.1" cy="517.1" r="3.25"/><circle cx="673.1" cy="516.3" r="3.25"/><circle cx="673.8" cy="515.7" r="3.25"/><circle cx="683.2" cy="515.6" r="3.25"/><circle cx="690.2" cy="514.6" r="3.25"/><circle cx="692.2" cy="517.1" r="3.25"/><circle cx="692.2" cy="517.0" r="3.25"/><circle cx="698.3" cy="516.3" r="3.25"/><circle cx="698.6" cy="517.0" r="3.25"/><circle cx="708.6" cy="515.6" r="3.25"/><circle cx="714.8" cy="518.1" r="3.25"/><circle cx="721.4" cy="514.1" r="3.25"/><circle cx="721.4" cy="516.1" r="3.25"/><circle cx="728.2" cy="513.1" r="3.25"/><circle cx="728.9" cy="517.9" r="3.25"/><circle cx="738.9" cy="518.3" r="3.25"/><circle cx="739.4" cy="520.1" r="3.25"/><circle cx="748.5" cy="515.3" r="3.25"/><circle cx="757.3" cy="517.9" r="3.25"/><circle cx="660.1" cy="521.1" r="3.25"/><circle cx="648.2" cy="525.2" r="3.25"/><circle cx="642.5" cy="530.2" r="3.25"/><circle cx="657.1" cy="525.7" r="3.25"/><circle cx="684.2" cy="522.1" r="3.25"/><circle cx="687.2" cy="527.2" r="3.25"/><circle cx="668.1" cy="526.7" r="3.25"/><circle cx="675.2" cy="528.7" r="3.25"/><circle cx="696.3" cy="524.7" r="3.25"/><circle cx="695.3" cy="523.5" r="3.25"/><circle cx="700.3" cy="524.2" r="3.25"/><circle cx="698.3" cy="528.2" r="3.25"/><circle cx="704.3" cy="528.2" r="3.25"/><circle cx="709.3" cy="522.1" r="3.25"/><circle cx="715.8" cy="525.2" r="3.25"/><circle cx="721.4" cy="521.1" r="3.25"/><circle cx="721.4" cy="528.7" r="3.25"/><circle cx="727.4" cy="528.7" r="3.25"/><circle cx="728.2" cy="528.5" r="3.25"/><circle cx="732.4" cy="526.2" r="3.25"/><circle cx="734.4" cy="529.2" r="3.25"/><circle cx="752.5" cy="526.7" r="3.25"/><circle cx="759.0" cy="527.2" r="3.25"/><circle cx="760.0" cy="530.7" r="3.25"/><circle cx="743.5" cy="531.2" r="3.25"/><circle cx="776.1" cy="528.0" r="3.25"/><circle cx="789.7" cy="526.7" r="3.25"/><circle cx="795.5" cy="526.4" r="3.25"/><circle cx="816.5" cy="526.4" r="3.25"/><circle cx="831.4" cy="521.6" r="3.25"/><circle cx="828.3" cy="528.5" r="3.25"/><circle cx="656.1" cy="531.2" r="3.25"/><circle cx="663.1" cy="536.2" r="3.25"/><circle cx="663.7" cy="535.0" r="3.25"/><circle cx="663.0" cy="536.7" r="3.25"/><circle cx="667.1" cy="533.2" r="3.25"/><circle cx="673.1" cy="532.2" r="3.25"/><circle cx="675.2" cy="536.2" r="3.25"/><circle cx="674.5" cy="537.3" r="3.25"/><circle cx="680.2" cy="532.2" r="3.25"/><circle cx="684.2" cy="537.2" r="3.25"/><circle cx="685.2" cy="536.1" r="3.25"/><circle cx="692.2" cy="533.2" r="3.25"/><circle cx="696.3" cy="534.2" r="3.25"/><circle cx="699.3" cy="537.2" r="3.25"/><circle cx="704.3" cy="534.2" r="3.25"/><circle cx="713.3" cy="532.7" r="3.25"/><circle cx="714.1" cy="537.7" r="3.25"/><circle cx="748.0" cy="534.2" r="3.25"/><circle cx="746.8" cy="534.3" r="3.25"/><circle cx="755.5" cy="537.2" r="3.25"/><circle cx="756.6" cy="536.9" r="3.25"/><circle cx="736.4" cy="537.2" r="3.25"/><circle cx="742.5" cy="540.2" r="3.25"/><circle cx="803.7" cy="534.0" r="3.25"/><circle cx="808.8" cy="538.5" r="3.25"/><circle cx="837.7" cy="535.7" r="3.25"/><circle cx="833.4" cy="538.5" r="3.25"/><circle cx="644.5" cy="538.9" r="3.25"/><circle cx="652.1" cy="540.2" r="3.25"/><circle cx="640.0" cy="542.2" r="3.25"/><circle cx="659.1" cy="542.2" r="3.25"/><circle cx="666.1" cy="540.2" r="3.25"/><circle cx="665.4" cy="540.0" r="3.25"/><circle cx="673.1" cy="542.2" r="3.25"/><circle cx="675.2" cy="547.3" r="3.25"/><circle cx="682.2" cy="542.2" r="3.25"/><circle cx="688.2" cy="542.2" r="3.25"/><circle cx="694.2" cy="546.3" r="3.25"/><circle cx="700.3" cy="543.2" r="3.25"/><circle cx="699.1" cy="542.6" r="3.25"/><circle cx="704.3" cy="546.3" r="3.25"/><circle cx="709.3" cy="542.2" r="3.25"/><circle cx="715.3" cy="545.2" r="3.25"/><circle cx="715.2" cy="545.2" r="3.25"/><circle cx="721.4" cy="542.2" r="3.25"/><circle cx="721.4" cy="546.3" r="3.25"/><circle cx="720.7" cy="545.6" r="3.25"/><circle cx="732.4" cy="544.7" r="3.25"/><circle cx="731.7" cy="544.6" r="3.25"/><circle cx="728.4" cy="546.3" r="3.25"/><circle cx="767.1" cy="542.2" r="3.25"/><circle cx="762.0" cy="547.3" r="3.25"/><circle cx="761.5" cy="546.1" r="3.25"/><circle cx="764.6" cy="549.8" r="3.25"/><circle cx="797.4" cy="542.2" r="3.25"/><circle cx="829.6" cy="544.5" r="3.25"/><circle cx="656.1" cy="550.3" r="3.25"/><circle cx="661.1" cy="548.3" r="3.25"/><circle cx="668.1" cy="549.3" r="3.25"/><circle cx="644.0" cy="556.3" r="3.25"/><circle cx="644.8" cy="556.4" r="3.25"/><circle cx="652.6" cy="559.8" r="3.25"/><circle cx="659.1" cy="554.3" r="3.25"/><circle cx="663.1" cy="558.3" r="3.25"/><circle cx="670.1" cy="555.3" r="3.25"/><circle cx="675.2" cy="552.3" r="3.25"/><circle cx="681.2" cy="554.3" r="3.25"/><circle cx="681.5" cy="553.5" r="3.25"/><circle cx="687.2" cy="552.3" r="3.25"/><circle cx="694.2" cy="555.3" r="3.25"/><circle cx="695.4" cy="556.2" r="3.25"/><circle cx="698.3" cy="552.3" r="3.25"/><circle cx="705.3" cy="551.3" r="3.25"/><circle cx="708.3" cy="554.3" r="3.25"/><circle cx="704.3" cy="559.3" r="3.25"/><circle cx="716.3" cy="550.3" r="3.25"/><circle cx="734.4" cy="551.3" r="3.25"/><circle cx="736.4" cy="556.3" r="3.25"/><circle cx="721.4" cy="557.3" r="3.25"/><circle cx="721.4" cy="560.3" r="3.25"/><circle cx="744.5" cy="557.5" r="3.25"/><circle cx="731.4" cy="561.3" r="3.25"/><circle cx="730.5" cy="560.9" r="3.25"/><circle cx="772.6" cy="552.5" r="3.25"/><circle cx="783.4" cy="550.0" r="3.25"/><circle cx="812.8" cy="552.6" r="3.25"/><circle cx="763.4" cy="556.8" r="3.25"/><circle cx="763.4" cy="559.8" r="3.25"/><circle cx="806.4" cy="560.0" r="3.25"/><circle cx="777.6" cy="561.3" r="3.25"/><circle cx="789.9" cy="562.6" r="3.25"/><circle cx="652.1" cy="564.8" r="3.25"/><circle cx="656.1" cy="569.4" r="3.25"/><circle cx="662.1" cy="561.3" r="3.25"/><circle cx="669.1" cy="562.3" r="3.25"/><circle cx="675.2" cy="563.3" r="3.25"/><circle cx="675.7" cy="563.8" r="3.25"/><circle cx="675.2" cy="567.3" r="3.25"/><circle cx="681.2" cy="566.3" r="3.25"/><circle cx="688.2" cy="563.3" r="3.25"/><circle cx="689.3" cy="563.1" r="3.25"/><circle cx="689.0" cy="563.7" r="3.25"/><circle cx="690.2" cy="566.3" r="3.25"/><circle cx="696.3" cy="566.3" r="3.25"/><circle cx="701.3" cy="569.4" r="3.25"/><circle cx="710.3" cy="564.3" r="3.25"/><circle cx="712.3" cy="567.3" r="3.25"/><circle cx="721.4" cy="564.3" r="3.25"/><circle cx="730.4" cy="565.3" r="3.25"/><circle cx="741.5" cy="566.3" r="3.25"/><circle cx="741.0" cy="566.6" r="3.25"/><circle cx="747.0" cy="563.8" r="3.25"/><circle cx="753.0" cy="564.3" r="3.25"/><circle cx="755.5" cy="568.4" r="3.25"/><circle cx="740.5" cy="570.4" r="3.25"/><circle cx="643.0" cy="569.9" r="3.25"/><circle cx="643.9" cy="570.7" r="3.25"/><circle cx="782.4" cy="569.9" r="3.25"/><circle cx="652.6" cy="577.4" r="3.25"/><circle cx="660.1" cy="577.4" r="3.25"/><circle cx="663.6" cy="571.4" r="3.25"/><circle cx="670.1" cy="577.4" r="3.25"/><circle cx="670.1" cy="577.6" r="3.25"/><circle cx="669.0" cy="576.8" r="3.25"/><circle cx="681.2" cy="570.4" r="3.25"/><circle cx="681.2" cy="575.4" r="3.25"/><circle cx="687.2" cy="573.4" r="3.25"/><circle cx="687.2" cy="577.4" r="3.25"/><circle cx="697.3" cy="575.4" r="3.25"/><circle cx="702.3" cy="574.4" r="3.25"/><circle cx="703.0" cy="574.2" r="3.25"/><circle cx="705.3" cy="576.4" r="3.25"/><circle cx="712.3" cy="579.4" r="3.25"/><circle cx="716.3" cy="575.4" r="3.25"/><circle cx="721.4" cy="572.4" r="3.25"/><circle cx="720.6" cy="572.5" r="3.25"/><circle cx="721.4" cy="576.4" r="3.25"/><circle cx="721.9" cy="576.8" r="3.25"/><circle cx="726.4" cy="571.4" r="3.25"/><circle cx="738.4" cy="576.4" r="3.25"/><circle cx="740.5" cy="574.4" r="3.25"/><circle cx="740.2" cy="574.2" r="3.25"/><circle cx="744.5" cy="573.4" r="3.25"/><circle cx="753.0" cy="574.4" r="3.25"/><circle cx="774.1" cy="574.4" r="3.25"/><circle cx="682.2" cy="579.4" r="3.25"/><circle cx="685.2" cy="584.4" r="3.25"/><circle cx="690.2" cy="584.4" r="3.25"/><circle cx="690.2" cy="585.1" r="3.25"/><circle cx="692.2" cy="580.4" r="3.25"/><circle cx="700.3" cy="583.9" r="3.25"/><circle cx="700.3" cy="583.7" r="3.25"/><circle cx="704.3" cy="588.4" r="3.25"/><circle cx="713.3" cy="583.4" r="3.25"/><circle cx="713.3" cy="582.3" r="3.25"/><circle cx="718.4" cy="584.4" r="3.25"/><circle cx="721.4" cy="587.4" r="3.25"/><circle cx="730.4" cy="583.9" r="3.25"/><circle cx="733.4" cy="583.9" r="3.25"/><circle cx="743.5" cy="583.9" r="3.25"/><circle cx="746.5" cy="583.9" r="3.25"/><circle cx="749.5" cy="583.9" r="3.25"/><circle cx="752.5" cy="583.9" r="3.25"/><circle cx="758.5" cy="583.9" r="3.25"/><circle cx="771.1" cy="589.4" r="3.25"/><circle cx="789.9" cy="583.9" r="3.25"/><circle cx="803.7" cy="583.9" r="3.25"/><circle cx="660.1" cy="590.5" r="3.25"/><circle cx="666.6" cy="590.2" r="3.25"/><circle cx="689.2" cy="589.4" r="3.25"/><circle cx="698.3" cy="590.5" r="3.25"/><circle cx="721.4" cy="592.5" r="3.25"/><circle cx="720.3" cy="592.9" r="3.25"/><circle cx="722.5" cy="592.7" r="3.25"/><circle cx="721.4" cy="595.5" r="3.25"/><circle cx="694.2" cy="593.5" r="3.25"/><circle cx="701.3" cy="592.5" r="3.25"/><circle cx="709.3" cy="592.5" r="3.25"/><circle cx="679.7" cy="596.3" r="3.25"/><circle cx="684.7" cy="596.7" r="3.25"/><circle cx="664.6" cy="598.5" r="3.25"/><circle cx="697.3" cy="598.5" r="3.25"/><circle cx="712.3" cy="598.5" r="3.25"/><circle cx="712.1" cy="597.7" r="3.25"/><circle cx="710.3" cy="602.5" r="3.25"/><circle cx="740.5" cy="592.5" r="3.25"/><circle cx="744.5" cy="594.5" r="3.25"/><circle cx="794.2" cy="598.5" r="3.25"/><circle cx="670.1" cy="603.0" r="3.25"/><circle cx="675.2" cy="604.0" r="3.25"/><circle cx="684.2" cy="603.5" r="3.25"/><circle cx="684.2" cy="604.7" r="3.25"/><circle cx="689.7" cy="602.5" r="3.25"/><circle cx="731.4" cy="602.5" r="3.25"/><circle cx="753.0" cy="602.5" r="3.25"/><circle cx="700.3" cy="605.5" r="3.25"/><circle cx="721.4" cy="605.5" r="3.25"/><circle cx="775.5" cy="658.7" r="3.25"/><circle cx="694.1" cy="559.4" r="3.25"/><circle cx="687.1" cy="527.8" r="3.25"/><circle cx="682.2" cy="534.2" r="3.25"/><circle cx="689.7" cy="532.7" r="3.25"/><circle cx="698.5" cy="554.9" r="3.25"/><circle cx="717.3" cy="557.0" r="3.25"/><circle cx="696.8" cy="544.2" r="3.25"/><circle cx="674.6" cy="568.7" r="3.25"/><circle cx="686.7" cy="555.8" r="3.25"/><circle cx="689.2" cy="559.1" r="3.25"/><circle cx="657.0" cy="524.2" r="3.25"/><circle cx="693.1" cy="579.5" r="3.25"/><circle cx="653.7" cy="538.5" r="3.25"/><circle cx="687.7" cy="541.0" r="3.25"/><circle cx="679.4" cy="542.6" r="3.25"/><circle cx="699.0" cy="548.5" r="3.25"/><circle cx="686.9" cy="531.4" r="3.25"/><circle cx="694.1" cy="571.3" r="3.25"/><circle cx="693.5" cy="543.1" r="3.25"/><circle cx="663.7" cy="553.9" r="3.25"/><circle cx="690.4" cy="544.1" r="3.25"/><circle cx="646.8" cy="536.6" r="3.25"/><circle cx="665.5" cy="534.9" r="3.25"/><circle cx="686.8" cy="532.7" r="3.25"/><circle cx="679.0" cy="564.8" r="3.25"/><circle cx="670.5" cy="545.9" r="3.25"/><circle cx="692.7" cy="538.2" r="3.25"/><circle cx="658.7" cy="550.3" r="3.25"/><circle cx="696.3" cy="522.8" r="3.25"/><circle cx="677.4" cy="539.9" r="3.25"/><circle cx="702.9" cy="524.7" r="3.25"/><circle cx="678.4" cy="526.4" r="3.25"/><circle cx="666.6" cy="546.7" r="3.25"/><circle cx="676.7" cy="544.4" r="3.25"/><circle cx="670.6" cy="524.9" r="3.25"/><circle cx="696.8" cy="566.7" r="3.25"/><circle cx="681.9" cy="541.6" r="3.25"/><circle cx="703.2" cy="553.5" r="3.25"/><circle cx="686.5" cy="559.0" r="3.25"/><circle cx="668.2" cy="535.0" r="3.25"/><circle cx="683.8" cy="531.2" r="3.25"/><circle cx="682.8" cy="549.8" r="3.25"/><circle cx="691.4" cy="553.6" r="3.25"/><circle cx="660.4" cy="544.7" r="3.25"/><circle cx="687.8" cy="560.5" r="3.25"/><circle cx="698.0" cy="542.9" r="3.25"/><circle cx="679.2" cy="530.4" r="3.25"/><circle cx="674.8" cy="535.5" r="3.25"/><circle cx="661.6" cy="542.4" r="3.25"/><circle cx="698.2" cy="567.7" r="3.25"/><circle cx="687.3" cy="545.1" r="3.25"/><circle cx="687.6" cy="557.3" r="3.25"/><circle cx="690.8" cy="552.0" r="3.25"/><circle cx="679.2" cy="542.8" r="3.25"/><circle cx="717.1" cy="560.8" r="3.25"/><circle cx="668.7" cy="557.4" r="3.25"/><circle cx="670.4" cy="549.9" r="3.25"/><circle cx="674.5" cy="550.4" r="3.25"/><circle cx="674.0" cy="543.3" r="3.25"/><circle cx="690.3" cy="555.0" r="3.25"/><circle cx="686.5" cy="556.5" r="3.25"/><circle cx="742.3" cy="553.6" r="3.25"/><circle cx="669.1" cy="567.1" r="3.25"/><circle cx="701.1" cy="573.7" r="3.25"/><circle cx="690.6" cy="587.3" r="3.25"/><circle cx="710.5" cy="606.0" r="3.25"/><circle cx="709.8" cy="566.8" r="3.25"/><circle cx="727.1" cy="577.4" r="3.25"/><circle cx="682.9" cy="576.3" r="3.25"/><circle cx="684.9" cy="583.5" r="3.25"/><circle cx="686.7" cy="568.6" r="3.25"/><circle cx="682.6" cy="568.2" r="3.25"/><circle cx="726.6" cy="582.3" r="3.25"/><circle cx="685.4" cy="539.2" r="3.25"/><circle cx="712.8" cy="550.5" r="3.25"/><circle cx="682.8" cy="574.3" r="3.25"/><circle cx="673.5" cy="576.3" r="3.25"/><circle cx="720.3" cy="562.8" r="3.25"/><circle cx="680.0" cy="558.6" r="3.25"/><circle cx="728.9" cy="565.6" r="3.25"/><circle cx="723.7" cy="563.3" r="3.25"/><circle cx="701.0" cy="565.7" r="3.25"/><circle cx="701.1" cy="567.7" r="3.25"/><circle cx="715.7" cy="583.0" r="3.25"/><circle cx="695.4" cy="546.0" r="3.25"/><circle cx="684.9" cy="546.2" r="3.25"/><circle cx="657.1" cy="562.3" r="3.25"/><circle cx="682.8" cy="593.8" r="3.25"/><circle cx="687.0" cy="538.0" r="3.25"/><circle cx="706.4" cy="562.3" r="3.25"/>
</g>
<path class="d" d="M583.6 460.32H969.6M583.6 521.94H969.6M583.6 568.98L969.6 611.88M583.6 626.84L969.6 645.51"/>
<path class="ax" d="M584.6 398.2H969.6V707.4H584.6ZM584.6 707.4v5.3M639.6 707.4v5.3M694.6 707.4v5.3M749.6 707.4v5.3M804.6 707.4v5.3M859.6 707.4v5.3M914.6 707.4v5.3M969.6 707.4v5.3M584.6 707.4h-5.3M584.6 645.5h-5.3M584.6 583.7h-5.3M584.6 521.9h-5.3M584.6 460.1h-5.3M584.6 398.2h-5.3"/>
<text class="t" text-anchor="middle" transform="translate(584.7 737.75) scale(1 1.04)">0.0</text>
<text class="t" text-anchor="middle" transform="translate(639.7 737.75) scale(1 1.04)">0.2</text>
<text class="t" text-anchor="middle" transform="translate(694.7 737.75) scale(1 1.04)">0.4</text>
<text class="t" text-anchor="middle" transform="translate(749.7 737.75) scale(1 1.04)">0.6</text>
<text class="t" text-anchor="middle" transform="translate(804.7 737.75) scale(1 1.04)">0.8</text>
<text class="t" text-anchor="middle" transform="translate(859.7 737.75) scale(1 1.04)">1.0</text>
<text class="t" text-anchor="middle" transform="translate(914.7 737.75) scale(1 1.04)">1.2</text>
<text class="t" text-anchor="middle" transform="translate(969.7 737.75) scale(1 1.04)">1.4</text>
<text class="t" text-anchor="end" transform="translate(575.9 716.05) scale(1 1.04)">0.0</text>
<text class="t" text-anchor="end" transform="translate(575.9 654.23) scale(1 1.04)">0.5</text>
<text class="t" text-anchor="end" transform="translate(575.9 592.41) scale(1 1.04)">1.0</text>
<text class="t" text-anchor="end" transform="translate(575.9 530.59) scale(1 1.04)">1.5</text>
<text class="t" text-anchor="end" transform="translate(575.9 468.77) scale(1 1.04)">2.0</text>
<text class="t" text-anchor="end" transform="translate(575.9 406.95) scale(1 1.04)">2.5</text>
<text class="t" text-anchor="middle" transform="translate(778.9 766) scale(1 1.04)">O/C</text>
<text class="t" text-anchor="middle" transform="translate(525.9 552.6) rotate(-90) scale(1 1.04)">H/C</text>
<text class="tl" transform="translate(596.8 427.95) scale(1 1.04)">WRP</text>
<text class="tg" transform="translate(923.6 437.35)">(f)</text>
<rect class="lb" x="799.5" y="676.5" width="162" height="25"/>
<circle cx="821.2" cy="689.4" r="3.25" fill="#0000ff" fill-opacity="0.5" stroke="#0000ff" stroke-opacity="0.5" stroke-width="0.5"/>
<text class="lg" transform="translate(840.7 695) scale(1 1.04)">CHON&#160;(<tspan font-style="italic">n=403</tspan>)</text>
</g>
<g id="panel-g">
<g fill="#962626" fill-opacity="0.6" stroke="#962626" stroke-opacity="0.6" stroke-width="0.5">
<circle cx="1179.4" cy="432.5" r="3.25"/><circle cx="1187.8" cy="437.4" r="3.25"/><circle cx="1193.4" cy="440.8" r="3.25"/><circle cx="1197.9" cy="443.4" r="3.25"/><circle cx="1205.6" cy="442.2" r="3.25"/><circle cx="1210.0" cy="446.1" r="3.25"/><circle cx="1139.3" cy="444.4" r="3.25"/><circle cx="1161.0" cy="443.5" r="3.25"/><circle cx="1257.0" cy="441.0" r="3.25"/><circle cx="1293.9" cy="439.5" r="3.25"/><circle cx="1161.8" cy="460.0" r="3.25"/><circle cx="1160.9" cy="460.8" r="3.25"/><circle cx="1234.4" cy="460.0" r="3.25"/><circle cx="1217.4" cy="474.4" r="3.25"/><circle cx="1218.6" cy="483.3" r="3.25"/><circle cx="1246.9" cy="485.9" r="3.25"/><circle cx="1255.8" cy="487.2" r="3.25"/><circle cx="1301.6" cy="487.2" r="3.25"/><circle cx="1293.9" cy="490.8" r="3.25"/><circle cx="1387.9" cy="482.4" r="3.25"/><circle cx="1397.1" cy="491.0" r="3.25"/><circle cx="1183.5" cy="492.0" r="3.25"/><circle cx="1195.4" cy="492.0" r="3.25"/><circle cx="1219.3" cy="492.0" r="3.25"/><circle cx="1231.4" cy="492.0" r="3.25"/><circle cx="1162.7" cy="504.6" r="3.25"/><circle cx="1215.4" cy="503.8" r="3.25"/><circle cx="1233.3" cy="503.3" r="3.25"/><circle cx="1230.5" cy="509.4" r="3.25"/><circle cx="1287.6" cy="504.6" r="3.25"/><circle cx="1176.4" cy="515.7" r="3.25"/><circle cx="1185.4" cy="515.7" r="3.25"/><circle cx="1203.2" cy="515.7" r="3.25"/><circle cx="1225.4" cy="512.8" r="3.25"/><circle cx="1243.1" cy="513.4" r="3.25"/><circle cx="1262.4" cy="516.0" r="3.25"/><circle cx="1216.2" cy="516.9" r="3.25"/><circle cx="1234.5" cy="517.2" r="3.25"/><circle cx="1235.2" cy="516.6" r="3.25"/><circle cx="1298.3" cy="517.8" r="3.25"/><circle cx="1122.1" cy="521.4" r="3.25"/><circle cx="1216.8" cy="521.4" r="3.25"/><circle cx="1225.4" cy="521.4" r="3.25"/><circle cx="1230.5" cy="524.0" r="3.25"/><circle cx="1293.9" cy="521.4" r="3.25"/><circle cx="1362.8" cy="521.4" r="3.25"/><circle cx="1197.9" cy="523.4" r="3.25"/><circle cx="1192.5" cy="525.2" r="3.25"/><circle cx="1172.3" cy="526.6" r="3.25"/><circle cx="1211.0" cy="528.2" r="3.25"/><circle cx="1182.1" cy="529.3" r="3.25"/><circle cx="1182.1" cy="529.1" r="3.25"/><circle cx="1190.0" cy="530.5" r="3.25"/><circle cx="1225.4" cy="529.7" r="3.25"/><circle cx="1225.7" cy="530.4" r="3.25"/><circle cx="1229.6" cy="533.8" r="3.25"/><circle cx="1228.6" cy="532.7" r="3.25"/><circle cx="1238.6" cy="531.5" r="3.25"/><circle cx="1263.0" cy="527.9" r="3.25"/><circle cx="1263.8" cy="527.7" r="3.25"/><circle cx="1271.3" cy="531.7" r="3.25"/><circle cx="1297.4" cy="530.5" r="3.25"/><circle cx="1249.5" cy="532.4" r="3.25"/><circle cx="1250.1" cy="531.2" r="3.25"/><circle cx="1253.1" cy="534.2" r="3.25"/><circle cx="1245.8" cy="536.5" r="3.25"/><circle cx="1142.6" cy="534.1" r="3.25"/><circle cx="1179.1" cy="535.0" r="3.25"/><circle cx="1182.6" cy="538.0" r="3.25"/><circle cx="1182.4" cy="538.5" r="3.25"/><circle cx="1214.5" cy="536.2" r="3.25"/><circle cx="1184.8" cy="540.4" r="3.25"/><circle cx="1179.4" cy="542.2" r="3.25"/><circle cx="1193.0" cy="539.5" r="3.25"/><circle cx="1199.4" cy="539.8" r="3.25"/><circle cx="1194.6" cy="541.8" r="3.25"/><circle cx="1194.0" cy="542.8" r="3.25"/><circle cx="1204.0" cy="544.5" r="3.25"/><circle cx="1199.4" cy="546.7" r="3.25"/><circle cx="1191.2" cy="546.7" r="3.25"/><circle cx="1194.6" cy="549.3" r="3.25"/><circle cx="1195.6" cy="548.2" r="3.25"/><circle cx="1274.8" cy="538.9" r="3.25"/><circle cx="1142.8" cy="546.3" r="3.25"/><circle cx="1137.5" cy="549.9" r="3.25"/><circle cx="1156.5" cy="546.3" r="3.25"/><circle cx="1163.3" cy="546.3" r="3.25"/><circle cx="1170.2" cy="546.3" r="3.25"/><circle cx="1156.5" cy="552.9" r="3.25"/><circle cx="1242.4" cy="544.9" r="3.25"/><circle cx="1225.4" cy="549.2" r="3.25"/><circle cx="1281.7" cy="547.0" r="3.25"/><circle cx="1258.2" cy="553.5" r="3.25"/><circle cx="1310.3" cy="554.1" r="3.25"/><circle cx="1332.3" cy="556.1" r="3.25"/><circle cx="1118.2" cy="556.2" r="3.25"/><circle cx="1202.5" cy="556.1" r="3.25"/><circle cx="1197.6" cy="558.5" r="3.25"/><circle cx="1174.4" cy="563.9" r="3.25"/><circle cx="1179.4" cy="569.9" r="3.25"/><circle cx="1209.7" cy="562.7" r="3.25"/><circle cx="1215.4" cy="565.4" r="3.25"/><circle cx="1217.4" cy="569.2" r="3.25"/><circle cx="1225.4" cy="564.7" r="3.25"/><circle cx="1235.0" cy="565.7" r="3.25"/><circle cx="1245.8" cy="564.7" r="3.25"/><circle cx="1252.2" cy="567.4" r="3.25"/><circle cx="1256.4" cy="563.3" r="3.25"/><circle cx="1247.4" cy="571.6" r="3.25"/><circle cx="1275.8" cy="563.9" r="3.25"/><circle cx="1282.6" cy="562.7" r="3.25"/><circle cx="1291.2" cy="567.5" r="3.25"/><circle cx="1321.5" cy="571.2" r="3.25"/><circle cx="1168.6" cy="576.4" r="3.25"/><circle cx="1192.4" cy="578.1" r="3.25"/><circle cx="1212.6" cy="584.0" r="3.25"/><circle cx="1219.2" cy="589.4" r="3.25"/><circle cx="1237.7" cy="580.2" r="3.25"/><circle cx="1255.0" cy="578.5" r="3.25"/><circle cx="1219.2" cy="600.1" r="3.25"/><circle cx="1240.6" cy="606.9" r="3.25"/><circle cx="1133.8" cy="611.3" r="3.25"/><circle cx="1194.6" cy="611.3" r="3.25"/><circle cx="1285.6" cy="608.7" r="3.25"/><circle cx="1161.0" cy="625.3" r="3.25"/><circle cx="1225.5" cy="625.1" r="3.25"/><circle cx="1201.3" cy="634.8" r="3.25"/>
</g>
<path class="d" d="M1086.7 460.32H1472.7M1086.7 521.94H1472.7M1086.7 568.98L1472.7 611.88M1086.7 626.84L1472.7 645.51"/>
<path class="ax" d="M1087.7 398.2H1472.7V707.4H1087.7ZM1087.7 707.4v5.3M1142.7 707.4v5.3M1197.7 707.4v5.3M1252.7 707.4v5.3M1307.7 707.4v5.3M1362.7 707.4v5.3M1417.7 707.4v5.3M1472.7 707.4v5.3M1087.7 707.4h-5.3M1087.7 645.5h-5.3M1087.7 583.7h-5.3M1087.7 521.9h-5.3M1087.7 460.1h-5.3M1087.7 398.2h-5.3"/>
<text class="t" text-anchor="middle" transform="translate(1087.8 737.75) scale(1 1.04)">0.0</text>
<text class="t" text-anchor="middle" transform="translate(1142.8 737.75) scale(1 1.04)">0.2</text>
<text class="t" text-anchor="middle" transform="translate(1197.8 737.75) scale(1 1.04)">0.4</text>
<text class="t" text-anchor="middle" transform="translate(1252.8 737.75) scale(1 1.04)">0.6</text>
<text class="t" text-anchor="middle" transform="translate(1307.8 737.75) scale(1 1.04)">0.8</text>
<text class="t" text-anchor="middle" transform="translate(1362.8 737.75) scale(1 1.04)">1.0</text>
<text class="t" text-anchor="middle" transform="translate(1417.8 737.75) scale(1 1.04)">1.2</text>
<text class="t" text-anchor="middle" transform="translate(1472.8 737.75) scale(1 1.04)">1.4</text>
<text class="t" text-anchor="end" transform="translate(1079 716.05) scale(1 1.04)">0.0</text>
<text class="t" text-anchor="end" transform="translate(1079 654.23) scale(1 1.04)">0.5</text>
<text class="t" text-anchor="end" transform="translate(1079 592.41) scale(1 1.04)">1.0</text>
<text class="t" text-anchor="end" transform="translate(1079 530.59) scale(1 1.04)">1.5</text>
<text class="t" text-anchor="end" transform="translate(1079 468.77) scale(1 1.04)">2.0</text>
<text class="t" text-anchor="end" transform="translate(1079 406.95) scale(1 1.04)">2.5</text>
<text class="t" text-anchor="middle" transform="translate(1282.95 766) scale(1 1.04)">O/C</text>
<text class="t" text-anchor="middle" transform="translate(1029 552.6) rotate(-90) scale(1 1.04)">H/C</text>
<text class="tl" transform="translate(1099.9 427.95) scale(1 1.04)">WRP</text>
<text class="tg" transform="translate(1426.7 437.35)">(g)</text>
<rect class="lb" x="1298.5" y="676.5" width="166" height="25"/>
<circle cx="1320.9" cy="689.1" r="3.25" fill="#962626" fill-opacity="0.6" stroke="#962626" stroke-opacity="0.6" stroke-width="0.5"/>
<text class="lg" transform="translate(1339.8 695) scale(1 1.04)">CHOS&#160;&#160;(<tspan font-style="italic">n=123</tspan>)</text>
</g>
<g id="panel-h">
<g fill="#ff7f00" fill-opacity="0.5" stroke="#ff7f00" stroke-opacity="0.5" stroke-width="0.5">
<circle cx="1694.6" cy="429.2" r="3.25"/><circle cx="1652.5" cy="432.6" r="3.25"/><circle cx="1628.8" cy="443.1" r="3.25"/><circle cx="1675.9" cy="441.1" r="3.25"/><circle cx="1705.7" cy="449.6" r="3.25"/><circle cx="1716.3" cy="448.6" r="3.25"/><circle cx="1774.5" cy="451.6" r="3.25"/><circle cx="1670.0" cy="459.9" r="3.25"/><circle cx="1675.9" cy="459.9" r="3.25"/><circle cx="1697.2" cy="459.9" r="3.25"/><circle cx="1750.4" cy="459.9" r="3.25"/><circle cx="1652.5" cy="473.7" r="3.25"/><circle cx="1670.0" cy="477.6" r="3.25"/><circle cx="1697.2" cy="478.8" r="3.25"/><circle cx="1705.7" cy="480.5" r="3.25"/><circle cx="1718.2" cy="474.3" r="3.25"/><circle cx="1729.0" cy="472.3" r="3.25"/><circle cx="1756.4" cy="472.3" r="3.25"/><circle cx="1729.0" cy="480.5" r="3.25"/><circle cx="1741.4" cy="482.5" r="3.25"/><circle cx="1729.0" cy="486.5" r="3.25"/><circle cx="1735.4" cy="489.3" r="3.25"/><circle cx="1748.4" cy="486.4" r="3.25"/><circle cx="1768.3" cy="486.4" r="3.25"/><circle cx="1637.3" cy="494.3" r="3.25"/><circle cx="1682.8" cy="501.1" r="3.25"/><circle cx="1688.6" cy="499.9" r="3.25"/><circle cx="1689.4" cy="504.2" r="3.25"/><circle cx="1705.7" cy="501.1" r="3.25"/><circle cx="1729.0" cy="501.2" r="3.25"/><circle cx="1729.0" cy="502.6" r="3.25"/><circle cx="1756.4" cy="499.4" r="3.25"/><circle cx="1763.0" cy="498.5" r="3.25"/><circle cx="1719.6" cy="505.4" r="3.25"/><circle cx="1741.4" cy="504.9" r="3.25"/><circle cx="1750.4" cy="505.4" r="3.25"/><circle cx="1756.4" cy="509.4" r="3.25"/><circle cx="1729.0" cy="510.4" r="3.25"/><circle cx="1699.1" cy="508.3" r="3.25"/><circle cx="1688.4" cy="510.7" r="3.25"/><circle cx="1803.8" cy="510.4" r="3.25"/><circle cx="1685.8" cy="517.6" r="3.25"/><circle cx="1692.9" cy="517.9" r="3.25"/><circle cx="1692.0" cy="518.8" r="3.25"/><circle cx="1693.4" cy="520.5" r="3.25"/><circle cx="1716.3" cy="516.1" r="3.25"/><circle cx="1721.0" cy="518.2" r="3.25"/><circle cx="1724.5" cy="519.6" r="3.25"/><circle cx="1656.2" cy="517.6" r="3.25"/><circle cx="1648.7" cy="520.3" r="3.25"/><circle cx="1651.2" cy="520.5" r="3.25"/><circle cx="1651.8" cy="519.9" r="3.25"/><circle cx="1625.6" cy="521.7" r="3.25"/><circle cx="1677.3" cy="521.5" r="3.25"/><circle cx="1705.7" cy="521.2" r="3.25"/><circle cx="1675.9" cy="526.5" r="3.25"/><circle cx="1691.4" cy="527.3" r="3.25"/><circle cx="1700.9" cy="526.0" r="3.25"/><circle cx="1704.9" cy="526.5" r="3.25"/><circle cx="1704.9" cy="526.4" r="3.25"/><circle cx="1708.4" cy="531.0" r="3.25"/><circle cx="1719.5" cy="529.5" r="3.25"/><circle cx="1759.7" cy="528.5" r="3.25"/><circle cx="1766.0" cy="527.3" r="3.25"/><circle cx="1781.8" cy="526.3" r="3.25"/><circle cx="1664.5" cy="534.2" r="3.25"/><circle cx="1699.4" cy="534.5" r="3.25"/><circle cx="1694.2" cy="537.2" r="3.25"/><circle cx="1708.4" cy="531.8" r="3.25"/><circle cx="1717.5" cy="533.5" r="3.25"/><circle cx="1713.5" cy="537.5" r="3.25"/><circle cx="1734.6" cy="534.0" r="3.25"/><circle cx="1756.4" cy="534.2" r="3.25"/><circle cx="1769.4" cy="532.8" r="3.25"/><circle cx="1765.2" cy="537.5" r="3.25"/><circle cx="1781.1" cy="536.5" r="3.25"/><circle cx="1781.4" cy="537.2" r="3.25"/><circle cx="1720.5" cy="539.0" r="3.25"/><circle cx="1729.0" cy="540.0" r="3.25"/><circle cx="1653.2" cy="543.1" r="3.25"/><circle cx="1646.2" cy="546.1" r="3.25"/><circle cx="1642.6" cy="548.6" r="3.25"/><circle cx="1651.7" cy="547.6" r="3.25"/><circle cx="1656.2" cy="547.6" r="3.25"/><circle cx="1653.7" cy="545.6" r="3.25"/><circle cx="1680.1" cy="543.4" r="3.25"/><circle cx="1679.1" cy="542.2" r="3.25"/><circle cx="1666.3" cy="549.9" r="3.25"/><circle cx="1691.9" cy="546.3" r="3.25"/><circle cx="1696.2" cy="548.3" r="3.25"/><circle cx="1702.4" cy="543.1" r="3.25"/><circle cx="1708.9" cy="542.3" r="3.25"/><circle cx="1703.9" cy="548.1" r="3.25"/><circle cx="1704.7" cy="547.9" r="3.25"/><circle cx="1711.5" cy="548.3" r="3.25"/><circle cx="1712.1" cy="547.1" r="3.25"/><circle cx="1715.0" cy="546.1" r="3.25"/><circle cx="1720.0" cy="546.6" r="3.25"/><circle cx="1719.9" cy="547.1" r="3.25"/><circle cx="1723.0" cy="543.6" r="3.25"/><circle cx="1729.0" cy="546.3" r="3.25"/><circle cx="1719.5" cy="550.6" r="3.25"/><circle cx="1729.0" cy="552.6" r="3.25"/><circle cx="1725.5" cy="551.6" r="3.25"/><circle cx="1741.4" cy="549.6" r="3.25"/><circle cx="1761.2" cy="542.1" r="3.25"/><circle cx="1760.7" cy="545.3" r="3.25"/><circle cx="1760.0" cy="546.3" r="3.25"/><circle cx="1762.7" cy="549.1" r="3.25"/><circle cx="1766.4" cy="549.9" r="3.25"/><circle cx="1756.4" cy="552.6" r="3.25"/><circle cx="1791.3" cy="549.9" r="3.25"/><circle cx="1805.2" cy="549.1" r="3.25"/><circle cx="1627.3" cy="556.6" r="3.25"/><circle cx="1677.3" cy="556.3" r="3.25"/><circle cx="1688.2" cy="556.6" r="3.25"/><circle cx="1705.7" cy="557.3" r="3.25"/><circle cx="1713.5" cy="555.6" r="3.25"/><circle cx="1715.5" cy="559.3" r="3.25"/><circle cx="1724.5" cy="558.6" r="3.25"/><circle cx="1725.5" cy="557.5" r="3.25"/><circle cx="1741.6" cy="557.3" r="3.25"/><circle cx="1740.5" cy="557.4" r="3.25"/><circle cx="1744.1" cy="557.6" r="3.25"/><circle cx="1738.6" cy="560.1" r="3.25"/><circle cx="1735.6" cy="562.3" r="3.25"/><circle cx="1736.6" cy="562.1" r="3.25"/><circle cx="1733.1" cy="563.7" r="3.25"/><circle cx="1729.0" cy="562.6" r="3.25"/><circle cx="1766.2" cy="560.9" r="3.25"/><circle cx="1797.5" cy="562.6" r="3.25"/><circle cx="1649.7" cy="560.8" r="3.25"/><circle cx="1633.6" cy="564.5" r="3.25"/><circle cx="1627.3" cy="567.5" r="3.25"/><circle cx="1660.2" cy="562.1" r="3.25"/><circle cx="1657.7" cy="564.7" r="3.25"/><circle cx="1666.1" cy="560.1" r="3.25"/><circle cx="1669.3" cy="562.6" r="3.25"/><circle cx="1668.6" cy="562.5" r="3.25"/><circle cx="1672.3" cy="564.7" r="3.25"/><circle cx="1671.1" cy="564.0" r="3.25"/><circle cx="1675.3" cy="567.7" r="3.25"/><circle cx="1675.1" cy="567.7" r="3.25"/><circle cx="1683.3" cy="566.7" r="3.25"/><circle cx="1679.3" cy="570.2" r="3.25"/><circle cx="1678.7" cy="569.5" r="3.25"/><circle cx="1673.3" cy="571.2" r="3.25"/><circle cx="1685.8" cy="572.2" r="3.25"/><circle cx="1681.3" cy="573.7" r="3.25"/><circle cx="1680.6" cy="573.6" r="3.25"/><circle cx="1722.3" cy="565.5" r="3.25"/><circle cx="1743.1" cy="566.7" r="3.25"/><circle cx="1705.7" cy="568.0" r="3.25"/><circle cx="1729.2" cy="570.0" r="3.25"/><circle cx="1728.7" cy="568.8" r="3.25"/><circle cx="1715.3" cy="570.7" r="3.25"/><circle cx="1712.5" cy="573.7" r="3.25"/><circle cx="1738.6" cy="571.0" r="3.25"/><circle cx="1734.3" cy="574.2" r="3.25"/><circle cx="1758.5" cy="567.2" r="3.25"/><circle cx="1758.5" cy="573.2" r="3.25"/><circle cx="1774.5" cy="574.7" r="3.25"/><circle cx="1637.3" cy="573.7" r="3.25"/><circle cx="1704.4" cy="576.2" r="3.25"/><circle cx="1709.4" cy="579.2" r="3.25"/><circle cx="1720.5" cy="576.4" r="3.25"/><circle cx="1725.2" cy="576.9" r="3.25"/><circle cx="1740.4" cy="578.7" r="3.25"/><circle cx="1758.5" cy="578.7" r="3.25"/><circle cx="1763.2" cy="579.7" r="3.25"/><circle cx="1791.3" cy="578.4" r="3.25"/><circle cx="1692.4" cy="579.2" r="3.25"/><circle cx="1685.3" cy="579.7" r="3.25"/><circle cx="1688.9" cy="583.7" r="3.25"/><circle cx="1692.4" cy="583.7" r="3.25"/><circle cx="1693.2" cy="583.9" r="3.25"/><circle cx="1698.2" cy="583.7" r="3.25"/><circle cx="1719.5" cy="583.9" r="3.25"/><circle cx="1729.0" cy="583.9" r="3.25"/><circle cx="1741.4" cy="584.2" r="3.25"/><circle cx="1765.7" cy="583.7" r="3.25"/><circle cx="1770.2" cy="583.9" r="3.25"/><circle cx="1774.7" cy="583.9" r="3.25"/><circle cx="1673.9" cy="588.3" r="3.25"/><circle cx="1710.3" cy="588.1" r="3.25"/><circle cx="1696.9" cy="590.3" r="3.25"/><circle cx="1701.4" cy="592.3" r="3.25"/><circle cx="1746.6" cy="589.3" r="3.25"/><circle cx="1758.5" cy="589.3" r="3.25"/><circle cx="1768.7" cy="592.0" r="3.25"/><circle cx="1689.4" cy="597.1" r="3.25"/><circle cx="1710.3" cy="596.3" r="3.25"/><circle cx="1750.4" cy="596.8" r="3.25"/><circle cx="1758.5" cy="600.0" r="3.25"/><circle cx="1646.4" cy="600.3" r="3.25"/><circle cx="1660.2" cy="604.5" r="3.25"/><circle cx="1697.2" cy="602.8" r="3.25"/><circle cx="1709.2" cy="605.1" r="3.25"/><circle cx="1717.3" cy="605.1" r="3.25"/><circle cx="1725.2" cy="605.1" r="3.25"/><circle cx="1679.1" cy="608.7" r="3.25"/><circle cx="1683.1" cy="607.9" r="3.25"/><circle cx="1683.5" cy="607.1" r="3.25"/><circle cx="1697.6" cy="615.7" r="3.25"/><circle cx="1712.0" cy="614.9" r="3.25"/><circle cx="1709.2" cy="618.9" r="3.25"/><circle cx="1709.2" cy="623.9" r="3.25"/><circle cx="1717.5" cy="624.1" r="3.25"/><circle cx="1694.4" cy="624.9" r="3.25"/><circle cx="1701.2" cy="628.4" r="3.25"/><circle cx="1901.4" cy="506.2" r="3.25"/><circle cx="1845.6" cy="545.3" r="3.25"/><circle cx="1824.2" cy="607.6" r="3.25"/>
</g>
<path class="d" d="M1590.5 460.32H1976.5M1590.5 521.94H1976.5M1590.5 568.98L1976.5 611.88M1590.5 626.84L1976.5 645.51"/>
<path class="ax" d="M1591.5 398.2H1976.5V707.4H1591.5ZM1591.5 707.4v5.3M1646.5 707.4v5.3M1701.5 707.4v5.3M1756.5 707.4v5.3M1811.5 707.4v5.3M1866.5 707.4v5.3M1921.5 707.4v5.3M1976.5 707.4v5.3M1591.5 707.4h-5.3M1591.5 645.5h-5.3M1591.5 583.7h-5.3M1591.5 521.9h-5.3M1591.5 460.1h-5.3M1591.5 398.2h-5.3"/>
<text class="t" text-anchor="middle" transform="translate(1591.6 737.75) scale(1 1.04)">0.0</text>
<text class="t" text-anchor="middle" transform="translate(1646.6 737.75) scale(1 1.04)">0.2</text>
<text class="t" text-anchor="middle" transform="translate(1701.6 737.75) scale(1 1.04)">0.4</text>
<text class="t" text-anchor="middle" transform="translate(1756.6 737.75) scale(1 1.04)">0.6</text>
<text class="t" text-anchor="middle" transform="translate(1811.6 737.75) scale(1 1.04)">0.8</text>
<text class="t" text-anchor="middle" transform="translate(1866.6 737.75) scale(1 1.04)">1.0</text>
<text class="t" text-anchor="middle" transform="translate(1921.6 737.75) scale(1 1.04)">1.2</text>
<text class="t" text-anchor="middle" transform="translate(1976.6 737.75) scale(1 1.04)">1.4</text>
<text class="t" text-anchor="end" transform="translate(1582.8 716.05) scale(1 1.04)">0.0</text>
<text class="t" text-anchor="end" transform="translate(1582.8 654.23) scale(1 1.04)">0.5</text>
<text class="t" text-anchor="end" transform="translate(1582.8 592.41) scale(1 1.04)">1.0</text>
<text class="t" text-anchor="end" transform="translate(1582.8 530.59) scale(1 1.04)">1.5</text>
<text class="t" text-anchor="end" transform="translate(1582.8 468.77) scale(1 1.04)">2.0</text>
<text class="t" text-anchor="end" transform="translate(1582.8 406.95) scale(1 1.04)">2.5</text>
<text class="t" text-anchor="middle" transform="translate(1785.9 766) scale(1 1.04)">O/C</text>
<text class="t" text-anchor="middle" transform="translate(1532.8 552.6) rotate(-90) scale(1 1.04)">H/C</text>
<text class="tl" transform="translate(1603.7 427.95) scale(1 1.04)">WRP</text>
<text class="tg" transform="translate(1930.5 437.35)">(h)</text>
<rect class="lb" x="1789.5" y="674.5" width="179" height="25"/>
<circle cx="1812.1" cy="687.1" r="3.25" fill="#ff7f00" fill-opacity="0.5" stroke="#ff7f00" stroke-opacity="0.5" stroke-width="0.5"/>
<text class="lg" transform="translate(1830.7 692.9) scale(1 1.04)">CHONS&#160;&#160;(<tspan font-style="italic">n=204</tspan>)</text>
</g>
<g id="panel-i">
<g fill="#00ff00" fill-opacity="0.5" stroke="#00ff00" stroke-opacity="0.5" stroke-width="0.5">
<circle cx="123.1" cy="975.7" r="3.25"/><circle cx="134.7" cy="981.6" r="3.25"/><circle cx="114.1" cy="1000.6" r="3.25"/><circle cx="246.9" cy="950.6" r="3.25"/><circle cx="241.3" cy="954.6" r="3.25"/><circle cx="225.1" cy="961.6" r="3.25"/><circle cx="230.1" cy="965.1" r="3.25"/><circle cx="233.6" cy="969.2" r="3.25"/><circle cx="251.9" cy="961.3" r="3.25"/><circle cx="246.7" cy="965.6" r="3.25"/><circle cx="246.7" cy="973.0" r="3.25"/><circle cx="229.6" cy="973.2" r="3.25"/><circle cx="242.6" cy="976.7" r="3.25"/><circle cx="257.4" cy="973.2" r="3.25"/><circle cx="257.4" cy="981.2" r="3.25"/><circle cx="184.2" cy="964.9" r="3.25"/><circle cx="181.2" cy="973.7" r="3.25"/><circle cx="184.4" cy="974.2" r="3.25"/><circle cx="183.5" cy="975.0" r="3.25"/><circle cx="194.4" cy="973.4" r="3.25"/><circle cx="195.1" cy="972.8" r="3.25"/><circle cx="186.4" cy="978.7" r="3.25"/><circle cx="186.4" cy="978.6" r="3.25"/><circle cx="183.4" cy="982.0" r="3.25"/><circle cx="190.9" cy="983.7" r="3.25"/><circle cx="191.3" cy="984.4" r="3.25"/><circle cx="192.4" cy="991.3" r="3.25"/><circle cx="191.4" cy="990.1" r="3.25"/><circle cx="208.0" cy="985.2" r="3.25"/><circle cx="203.5" cy="989.2" r="3.25"/><circle cx="225.6" cy="984.4" r="3.25"/><circle cx="221.5" cy="989.2" r="3.25"/><circle cx="234.3" cy="992.3" r="3.25"/><circle cx="242.8" cy="984.4" r="3.25"/><circle cx="251.9" cy="984.4" r="3.25"/><circle cx="248.9" cy="989.2" r="3.25"/><circle cx="257.4" cy="989.2" r="3.25"/><circle cx="263.5" cy="993.8" r="3.25"/><circle cx="221.5" cy="997.3" r="3.25"/><circle cx="217.3" cy="1000.8" r="3.25"/><circle cx="230.1" cy="997.3" r="3.25"/><circle cx="234.3" cy="1000.3" r="3.25"/><circle cx="226.1" cy="1002.3" r="3.25"/><circle cx="230.6" cy="1004.8" r="3.25"/><circle cx="234.3" cy="1007.8" r="3.25"/><circle cx="239.1" cy="1005.3" r="3.25"/><circle cx="244.7" cy="1002.3" r="3.25"/><circle cx="248.5" cy="997.3" r="3.25"/><circle cx="252.7" cy="1000.3" r="3.25"/><circle cx="253.5" cy="1000.1" r="3.25"/><circle cx="257.4" cy="997.3" r="3.25"/><circle cx="248.5" cy="1004.8" r="3.25"/><circle cx="249.1" cy="1003.6" r="3.25"/><circle cx="254.7" cy="1003.3" r="3.25"/><circle cx="263.5" cy="1002.3" r="3.25"/><circle cx="269.8" cy="999.0" r="3.25"/><circle cx="276.5" cy="995.3" r="3.25"/><circle cx="276.5" cy="1004.8" r="3.25"/><circle cx="283.8" cy="1001.5" r="3.25"/><circle cx="269.8" cy="1007.8" r="3.25"/><circle cx="260.7" cy="1007.8" r="3.25"/><circle cx="201.8" cy="1001.5" r="3.25"/><circle cx="179.9" cy="1003.3" r="3.25"/><circle cx="195.9" cy="1007.5" r="3.25"/><circle cx="193.4" cy="1010.8" r="3.25"/><circle cx="196.9" cy="1010.3" r="3.25"/><circle cx="196.8" cy="1010.9" r="3.25"/><circle cx="200.5" cy="1013.4" r="3.25"/><circle cx="212.5" cy="1007.8" r="3.25"/><circle cx="179.9" cy="1014.4" r="3.25"/><circle cx="206.5" cy="1016.9" r="3.25"/><circle cx="212.5" cy="1016.4" r="3.25"/><circle cx="221.5" cy="1013.4" r="3.25"/><circle cx="222.0" cy="1016.2" r="3.25"/><circle cx="221.4" cy="1017.2" r="3.25"/><circle cx="230.6" cy="1013.4" r="3.25"/><circle cx="217.3" cy="1019.2" r="3.25"/><circle cx="226.1" cy="1019.2" r="3.25"/><circle cx="201.5" cy="1019.9" r="3.25"/><circle cx="205.5" cy="1021.4" r="3.25"/><circle cx="206.4" cy="1020.3" r="3.25"/><circle cx="235.6" cy="1019.2" r="3.25"/><circle cx="241.3" cy="1016.2" r="3.25"/><circle cx="244.7" cy="1010.3" r="3.25"/><circle cx="249.7" cy="1013.4" r="3.25"/><circle cx="248.5" cy="1013.5" r="3.25"/><circle cx="254.7" cy="1010.3" r="3.25"/><circle cx="260.2" cy="1015.9" r="3.25"/><circle cx="266.8" cy="1013.9" r="3.25"/><circle cx="272.8" cy="1009.3" r="3.25"/><circle cx="276.5" cy="1013.4" r="3.25"/><circle cx="281.3" cy="1017.2" r="3.25"/><circle cx="274.8" cy="1020.9" r="3.25"/><circle cx="275.8" cy="1020.6" r="3.25"/><circle cx="286.3" cy="1021.4" r="3.25"/><circle cx="289.4" cy="1014.4" r="3.25"/><circle cx="257.2" cy="1022.9" r="3.25"/><circle cx="247.7" cy="1022.4" r="3.25"/><circle cx="241.1" cy="1024.9" r="3.25"/><circle cx="231.6" cy="1024.4" r="3.25"/><circle cx="187.4" cy="1028.4" r="3.25"/><circle cx="184.2" cy="1034.4" r="3.25"/><circle cx="192.4" cy="1037.3" r="3.25"/><circle cx="199.2" cy="1039.7" r="3.25"/><circle cx="204.5" cy="1037.3" r="3.25"/><circle cx="211.0" cy="1040.0" r="3.25"/><circle cx="217.3" cy="1036.0" r="3.25"/><circle cx="217.3" cy="1041.5" r="3.25"/><circle cx="222.0" cy="1029.2" r="3.25"/><circle cx="226.6" cy="1028.4" r="3.25"/><circle cx="230.6" cy="1028.9" r="3.25"/><circle cx="229.9" cy="1028.7" r="3.25"/><circle cx="229.5" cy="1028.3" r="3.25"/><circle cx="227.1" cy="1031.6" r="3.25"/><circle cx="236.6" cy="1031.4" r="3.25"/><circle cx="242.6" cy="1029.4" r="3.25"/><circle cx="238.4" cy="1036.3" r="3.25"/><circle cx="228.6" cy="1041.7" r="3.25"/><circle cx="233.6" cy="1044.0" r="3.25"/><circle cx="247.2" cy="1039.5" r="3.25"/><circle cx="249.2" cy="1036.0" r="3.25"/><circle cx="259.7" cy="1039.8" r="3.25"/><circle cx="263.5" cy="1029.2" r="3.25"/><circle cx="267.3" cy="1034.2" r="3.25"/><circle cx="270.8" cy="1026.4" r="3.25"/><circle cx="275.3" cy="1031.4" r="3.25"/><circle cx="278.8" cy="1024.4" r="3.25"/><circle cx="283.6" cy="1028.6" r="3.25"/><circle cx="289.7" cy="1034.2" r="3.25"/><circle cx="291.8" cy="959.6" r="3.25"/><circle cx="291.8" cy="969.5" r="3.25"/><circle cx="300.3" cy="964.1" r="3.25"/><circle cx="324.9" cy="955.4" r="3.25"/><circle cx="336.9" cy="961.1" r="3.25"/><circle cx="338.0" cy="969.4" r="3.25"/><circle cx="339.2" cy="976.4" r="3.25"/><circle cx="355.3" cy="969.2" r="3.25"/><circle cx="309.1" cy="979.2" r="3.25"/><circle cx="317.6" cy="980.5" r="3.25"/><circle cx="327.9" cy="981.5" r="3.25"/><circle cx="309.1" cy="989.7" r="3.25"/><circle cx="300.3" cy="994.1" r="3.25"/><circle cx="291.8" cy="998.0" r="3.25"/><circle cx="315.9" cy="998.8" r="3.25"/><circle cx="336.9" cy="994.0" r="3.25"/><circle cx="333.9" cy="998.3" r="3.25"/><circle cx="291.8" cy="1007.5" r="3.25"/><circle cx="297.9" cy="1010.8" r="3.25"/><circle cx="307.3" cy="1007.3" r="3.25"/><circle cx="315.9" cy="1010.8" r="3.25"/><circle cx="305.3" cy="1014.7" r="3.25"/><circle cx="311.6" cy="1015.4" r="3.25"/><circle cx="292.2" cy="1025.9" r="3.25"/><circle cx="297.4" cy="1028.2" r="3.25"/><circle cx="269.6" cy="861.4" r="3.25"/>
</g>
<path class="d" d="M79.9 846.12H465.9M79.9 907.39H465.9M79.9 954.23L465.9 997.13M79.9 1012.09L465.9 1030.76"/>
<path class="ax" d="M80.9 783.2H465.9V1092.3H80.9ZM80.9 1092.3v5.3M135.9 1092.3v5.3M190.9 1092.3v5.3M245.9 1092.3v5.3M300.9 1092.3v5.3M355.9 1092.3v5.3M410.9 1092.3v5.3M465.9 1092.3v5.3M80.9 1092.3h-5.3M80.9 1030.5h-5.3M80.9 968.7h-5.3M80.9 906.9h-5.3M80.9 845.1h-5.3M80.9 783.2h-5.3"/>
<text class="t" text-anchor="middle" transform="translate(81 1122.75) scale(1 1.04)">0.0</text>
<text class="t" text-anchor="middle" transform="translate(136 1122.75) scale(1 1.04)">0.2</text>
<text class="t" text-anchor="middle" transform="translate(191 1122.75) scale(1 1.04)">0.4</text>
<text class="t" text-anchor="middle" transform="translate(246 1122.75) scale(1 1.04)">0.6</text>
<text class="t" text-anchor="middle" transform="translate(301 1122.75) scale(1 1.04)">0.8</text>
<text class="t" text-anchor="middle" transform="translate(356 1122.75) scale(1 1.04)">1.0</text>
<text class="t" text-anchor="middle" transform="translate(411 1122.75) scale(1 1.04)">1.2</text>
<text class="t" text-anchor="middle" transform="translate(466 1122.75) scale(1 1.04)">1.4</text>
<text class="t" text-anchor="end" transform="translate(72.2 1101.05) scale(1 1.04)">0.0</text>
<text class="t" text-anchor="end" transform="translate(72.2 1039.23) scale(1 1.04)">0.5</text>
<text class="t" text-anchor="end" transform="translate(72.2 977.41) scale(1 1.04)">1.0</text>
<text class="t" text-anchor="end" transform="translate(72.2 915.59) scale(1 1.04)">1.5</text>
<text class="t" text-anchor="end" transform="translate(72.2 853.77) scale(1 1.04)">2.0</text>
<text class="t" text-anchor="end" transform="translate(72.2 791.95) scale(1 1.04)">2.5</text>
<text class="t" text-anchor="middle" transform="translate(275.95 1154) scale(1 1.04)">O/C</text>
<text class="t" text-anchor="middle" transform="translate(22.2 937.6) rotate(-90) scale(1 1.04)">H/C</text>
<text class="tl" transform="translate(93.1 812.95) scale(1 1.04)">SFP</text>
<text class="tg" transform="translate(419.9 822.35)">(i)</text>
<rect class="lb" x="310.5" y="1059.5" width="149" height="26"/>
<circle cx="331.8" cy="1073.3" r="3.25" fill="#00ff00" fill-opacity="0.5" stroke="#00ff00" stroke-opacity="0.5" stroke-width="0.5"/>
<text class="lg" transform="translate(351.8 1079.1) scale(1 1.04)">CHO&#160;(<tspan font-style="italic">n=256</tspan>)</text>
</g>
<g id="panel-j">
<g fill="#0000ff" fill-opacity="0.5" stroke="#0000ff" stroke-opacity="0.5" stroke-width="0.5">
<circle cx="776.4" cy="870.3" r="3.25"/><circle cx="828.4" cy="872.9" r="3.25"/><circle cx="735.4" cy="883.9" r="3.25"/><circle cx="780.0" cy="889.6" r="3.25"/><circle cx="704.2" cy="914.9" r="3.25"/><circle cx="738.4" cy="914.9" r="3.25"/><circle cx="717.2" cy="924.3" r="3.25"/><circle cx="740.7" cy="925.0" r="3.25"/><circle cx="705.0" cy="929.0" r="3.25"/><circle cx="716.6" cy="934.8" r="3.25"/><circle cx="721.4" cy="938.3" r="3.25"/><circle cx="730.4" cy="936.0" r="3.25"/><circle cx="717.2" cy="946.4" r="3.25"/><circle cx="740.7" cy="947.0" r="3.25"/><circle cx="758.0" cy="940.9" r="3.25"/><circle cx="761.8" cy="940.0" r="3.25"/><circle cx="767.0" cy="948.4" r="3.25"/><circle cx="780.0" cy="951.3" r="3.25"/><circle cx="644.7" cy="927.7" r="3.25"/><circle cx="649.2" cy="933.8" r="3.25"/><circle cx="660.5" cy="929.3" r="3.25"/><circle cx="663.7" cy="933.2" r="3.25"/><circle cx="675.4" cy="932.3" r="3.25"/><circle cx="670.3" cy="936.5" r="3.25"/><circle cx="675.4" cy="940.4" r="3.25"/><circle cx="669.1" cy="943.4" r="3.25"/><circle cx="620.4" cy="936.0" r="3.25"/><circle cx="668.3" cy="954.3" r="3.25"/><circle cx="672.1" cy="955.5" r="3.25"/><circle cx="680.0" cy="956.4" r="3.25"/><circle cx="686.0" cy="954.9" r="3.25"/><circle cx="700.3" cy="959.4" r="3.25"/><circle cx="655.2" cy="958.2" r="3.25"/><circle cx="658.6" cy="963.3" r="3.25"/><circle cx="663.7" cy="964.1" r="3.25"/><circle cx="629.6" cy="958.8" r="3.25"/><circle cx="606.6" cy="958.8" r="3.25"/><circle cx="763.9" cy="960.4" r="3.25"/><circle cx="781.7" cy="958.8" r="3.25"/><circle cx="782.6" cy="962.2" r="3.25"/><circle cx="775.0" cy="963.5" r="3.25"/><circle cx="789.9" cy="963.8" r="3.25"/><circle cx="806.5" cy="969.0" r="3.25"/><circle cx="836.6" cy="959.1" r="3.25"/><circle cx="667.6" cy="969.0" r="3.25"/><circle cx="606.6" cy="979.1" r="3.25"/><circle cx="670.6" cy="975.1" r="3.25"/><circle cx="662.3" cy="980.8" r="3.25"/><circle cx="672.1" cy="986.1" r="3.25"/><circle cx="666.4" cy="987.6" r="3.25"/><circle cx="665.5" cy="988.4" r="3.25"/><circle cx="635.2" cy="984.4" r="3.25"/><circle cx="638.7" cy="985.3" r="3.25"/><circle cx="648.5" cy="990.7" r="3.25"/><circle cx="635.2" cy="1000.4" r="3.25"/><circle cx="622.8" cy="1004.7" r="3.25"/><circle cx="660.4" cy="1004.0" r="3.25"/><circle cx="666.4" cy="1000.2" r="3.25"/><circle cx="670.3" cy="1008.2" r="3.25"/><circle cx="666.4" cy="1012.7" r="3.25"/><circle cx="806.5" cy="981.1" r="3.25"/><circle cx="818.3" cy="978.1" r="3.25"/><circle cx="819.5" cy="995.8" r="3.25"/><circle cx="847.9" cy="992.5" r="3.25"/><circle cx="807.1" cy="1008.2" r="3.25"/><circle cx="678.9" cy="973.5" r="3.25"/><circle cx="679.5" cy="972.9" r="3.25"/><circle cx="707.6" cy="968.3" r="3.25"/><circle cx="707.5" cy="968.1" r="3.25"/><circle cx="734.6" cy="968.9" r="3.25"/><circle cx="745.3" cy="968.9" r="3.25"/><circle cx="767.1" cy="969.0" r="3.25"/><circle cx="785.7" cy="968.9" r="3.25"/><circle cx="702.3" cy="973.5" r="3.25"/><circle cx="715.7" cy="974.1" r="3.25"/><circle cx="690.0" cy="976.7" r="3.25"/><circle cx="697.5" cy="977.4" r="3.25"/><circle cx="679.6" cy="980.0" r="3.25"/><circle cx="693.9" cy="981.9" r="3.25"/><circle cx="721.5" cy="977.4" r="3.25"/><circle cx="721.5" cy="980.6" r="3.25"/><circle cx="740.1" cy="973.5" r="3.25"/><circle cx="740.8" cy="978.0" r="3.25"/><circle cx="730.7" cy="981.3" r="3.25"/><circle cx="759.6" cy="979.0" r="3.25"/><circle cx="748.6" cy="981.3" r="3.25"/><circle cx="748.9" cy="982.0" r="3.25"/><circle cx="774.6" cy="974.1" r="3.25"/><circle cx="773.6" cy="973.0" r="3.25"/><circle cx="781.1" cy="974.8" r="3.25"/><circle cx="782.4" cy="980.3" r="3.25"/><circle cx="783.2" cy="980.1" r="3.25"/><circle cx="796.4" cy="974.4" r="3.25"/><circle cx="795.4" cy="978.7" r="3.25"/><circle cx="686.7" cy="984.5" r="3.25"/><circle cx="676.3" cy="984.5" r="3.25"/><circle cx="699.7" cy="988.4" r="3.25"/><circle cx="701.7" cy="991.0" r="3.25"/><circle cx="679.6" cy="990.4" r="3.25"/><circle cx="721.5" cy="984.5" r="3.25"/><circle cx="726.4" cy="985.8" r="3.25"/><circle cx="721.9" cy="989.4" r="3.25"/><circle cx="722.5" cy="988.2" r="3.25"/><circle cx="726.4" cy="991.7" r="3.25"/><circle cx="735.9" cy="985.8" r="3.25"/><circle cx="745.3" cy="985.2" r="3.25"/><circle cx="753.8" cy="983.2" r="3.25"/><circle cx="759.6" cy="983.9" r="3.25"/><circle cx="767.1" cy="984.5" r="3.25"/><circle cx="775.3" cy="985.2" r="3.25"/><circle cx="782.7" cy="985.8" r="3.25"/><circle cx="796.4" cy="985.8" r="3.25"/><circle cx="794.1" cy="990.7" r="3.25"/><circle cx="750.8" cy="991.0" r="3.25"/><circle cx="760.3" cy="991.7" r="3.25"/><circle cx="767.4" cy="990.4" r="3.25"/><circle cx="771.4" cy="991.0" r="3.25"/><circle cx="777.2" cy="992.3" r="3.25"/><circle cx="735.5" cy="992.3" r="3.25"/><circle cx="735.4" cy="992.9" r="3.25"/><circle cx="745.3" cy="993.6" r="3.25"/><circle cx="744.7" cy="994.7" r="3.25"/><circle cx="715.7" cy="991.7" r="3.25"/><circle cx="686.7" cy="994.9" r="3.25"/><circle cx="693.6" cy="998.9" r="3.25"/><circle cx="715.7" cy="995.6" r="3.25"/><circle cx="711.5" cy="1000.5" r="3.25"/><circle cx="721.5" cy="1000.8" r="3.25"/><circle cx="731.0" cy="998.2" r="3.25"/><circle cx="732.0" cy="997.1" r="3.25"/><circle cx="740.1" cy="1000.2" r="3.25"/><circle cx="746.6" cy="996.9" r="3.25"/><circle cx="745.5" cy="997.0" r="3.25"/><circle cx="753.8" cy="997.6" r="3.25"/><circle cx="760.3" cy="995.6" r="3.25"/><circle cx="757.0" cy="1001.5" r="3.25"/><circle cx="768.1" cy="996.9" r="3.25"/><circle cx="769.2" cy="996.6" r="3.25"/><circle cx="772.0" cy="1000.2" r="3.25"/><circle cx="771.3" cy="1000.0" r="3.25"/><circle cx="762.9" cy="1001.5" r="3.25"/><circle cx="781.8" cy="999.5" r="3.25"/><circle cx="787.6" cy="1001.5" r="3.25"/><circle cx="796.4" cy="997.6" r="3.25"/><circle cx="777.2" cy="996.2" r="3.25"/><circle cx="705.6" cy="1006.7" r="3.25"/><circle cx="704.9" cy="1009.3" r="3.25"/><circle cx="727.1" cy="1005.4" r="3.25"/><circle cx="732.9" cy="1002.8" r="3.25"/><circle cx="743.4" cy="1002.8" r="3.25"/><circle cx="742.2" cy="1002.1" r="3.25"/><circle cx="749.9" cy="1006.0" r="3.25"/><circle cx="749.7" cy="1006.0" r="3.25"/><circle cx="756.4" cy="1004.7" r="3.25"/><circle cx="762.9" cy="1006.7" r="3.25"/><circle cx="762.3" cy="1006.0" r="3.25"/><circle cx="772.0" cy="1003.4" r="3.25"/><circle cx="771.3" cy="1003.3" r="3.25"/><circle cx="781.8" cy="1004.1" r="3.25"/><circle cx="781.8" cy="1008.6" r="3.25"/><circle cx="715.4" cy="1009.9" r="3.25"/><circle cx="714.9" cy="1008.8" r="3.25"/><circle cx="709.5" cy="1011.9" r="3.25"/><circle cx="725.8" cy="1010.6" r="3.25"/><circle cx="732.3" cy="1009.9" r="3.25"/><circle cx="742.1" cy="1009.3" r="3.25"/><circle cx="753.1" cy="1009.9" r="3.25"/><circle cx="753.9" cy="1010.1" r="3.25"/><circle cx="762.9" cy="1011.9" r="3.25"/><circle cx="691.6" cy="1012.5" r="3.25"/><circle cx="684.8" cy="1014.5" r="3.25"/><circle cx="688.7" cy="1016.4" r="3.25"/><circle cx="699.1" cy="1015.1" r="3.25"/><circle cx="699.4" cy="1014.4" r="3.25"/><circle cx="709.5" cy="1014.5" r="3.25"/><circle cx="715.4" cy="1014.5" r="3.25"/><circle cx="721.5" cy="1017.1" r="3.25"/><circle cx="722.7" cy="1017.9" r="3.25"/><circle cx="730.3" cy="1014.5" r="3.25"/><circle cx="737.5" cy="1014.5" r="3.25"/><circle cx="745.3" cy="1015.1" r="3.25"/><circle cx="756.4" cy="1014.5" r="3.25"/><circle cx="755.5" cy="1014.1" r="3.25"/><circle cx="767.4" cy="1016.4" r="3.25"/><circle cx="777.2" cy="1013.2" r="3.25"/><circle cx="777.7" cy="1013.7" r="3.25"/><circle cx="787.3" cy="1012.5" r="3.25"/><circle cx="778.5" cy="1016.4" r="3.25"/><circle cx="783.7" cy="1019.7" r="3.25"/><circle cx="748.6" cy="1018.4" r="3.25"/><circle cx="749.6" cy="1018.2" r="3.25"/><circle cx="733.6" cy="1019.0" r="3.25"/><circle cx="684.8" cy="1020.3" r="3.25"/><circle cx="685.6" cy="1020.7" r="3.25"/><circle cx="693.6" cy="1024.9" r="3.25"/><circle cx="703.3" cy="1022.9" r="3.25"/><circle cx="702.8" cy="1023.2" r="3.25"/><circle cx="709.8" cy="1026.2" r="3.25"/><circle cx="715.4" cy="1023.6" r="3.25"/><circle cx="715.4" cy="1028.5" r="3.25"/><circle cx="727.1" cy="1022.9" r="3.25"/><circle cx="728.0" cy="1023.8" r="3.25"/><circle cx="727.1" cy="1026.2" r="3.25"/><circle cx="738.8" cy="1022.3" r="3.25"/><circle cx="745.3" cy="1025.5" r="3.25"/><circle cx="745.3" cy="1025.8" r="3.25"/><circle cx="751.2" cy="1022.3" r="3.25"/><circle cx="755.1" cy="1026.8" r="3.25"/><circle cx="764.2" cy="1023.6" r="3.25"/><circle cx="763.1" cy="1023.0" r="3.25"/><circle cx="767.4" cy="1026.2" r="3.25"/><circle cx="768.2" cy="1026.0" r="3.25"/><circle cx="774.0" cy="1022.9" r="3.25"/><circle cx="759.6" cy="1028.8" r="3.25"/><circle cx="780.5" cy="1028.2" r="3.25"/><circle cx="696.2" cy="1031.4" r="3.25"/><circle cx="703.3" cy="1028.5" r="3.25"/><circle cx="732.9" cy="1030.1" r="3.25"/><circle cx="732.2" cy="1030.2" r="3.25"/><circle cx="733.4" cy="1030.5" r="3.25"/><circle cx="771.4" cy="1031.4" r="3.25"/><circle cx="751.2" cy="1030.8" r="3.25"/><circle cx="703.3" cy="1034.0" r="3.25"/><circle cx="715.0" cy="1034.0" r="3.25"/><circle cx="744.0" cy="1036.6" r="3.25"/><circle cx="751.2" cy="1034.0" r="3.25"/><circle cx="731.6" cy="1033.4" r="3.25"/><circle cx="756.4" cy="1016.7" r="3.25"/><circle cx="748.5" cy="992.5" r="3.25"/><circle cx="742.9" cy="997.4" r="3.25"/><circle cx="751.5" cy="996.3" r="3.25"/><circle cx="761.4" cy="1013.3" r="3.25"/><circle cx="782.7" cy="1014.9" r="3.25"/><circle cx="759.5" cy="1005.0" r="3.25"/><circle cx="734.4" cy="1023.9" r="3.25"/><circle cx="748.0" cy="1014.0" r="3.25"/><circle cx="750.9" cy="1016.6" r="3.25"/><circle cx="714.4" cy="989.7" r="3.25"/><circle cx="755.4" cy="1032.3" r="3.25"/><circle cx="710.6" cy="1000.7" r="3.25"/><circle cx="749.2" cy="1002.6" r="3.25"/><circle cx="739.8" cy="1003.9" r="3.25"/><circle cx="762.0" cy="1008.4" r="3.25"/><circle cx="748.2" cy="995.2" r="3.25"/><circle cx="756.5" cy="1026.0" r="3.25"/><circle cx="755.7" cy="1004.2" r="3.25"/><circle cx="722.0" cy="1012.6" r="3.25"/><circle cx="752.2" cy="1005.0" r="3.25"/><circle cx="702.8" cy="999.3" r="3.25"/><circle cx="724.1" cy="997.9" r="3.25"/><circle cx="748.2" cy="996.3" r="3.25"/><circle cx="739.4" cy="1020.9" r="3.25"/><circle cx="729.7" cy="1006.4" r="3.25"/><circle cx="754.8" cy="1000.5" r="3.25"/><circle cx="716.4" cy="1009.7" r="3.25"/>
</g>
<path class="d" d="M583.6 846.12H969.6M583.6 907.39H969.6M583.6 954.23L969.6 997.13M583.6 1012.09L969.6 1030.76"/>
<path class="ax" d="M584.6 783.2H969.6V1092.3H584.6ZM584.6 1092.3v5.3M639.6 1092.3v5.3M694.6 1092.3v5.3M749.6 1092.3v5.3M804.6 1092.3v5.3M859.6 1092.3v5.3M914.6 1092.3v5.3M969.6 1092.3v5.3M584.6 1092.3h-5.3M584.6 1030.5h-5.3M584.6 968.7h-5.3M584.6 906.9h-5.3M584.6 845.1h-5.3M584.6 783.2h-5.3"/>
<text class="t" text-anchor="middle" transform="translate(584.7 1122.75) scale(1 1.04)">0.0</text>
<text class="t" text-anchor="middle" transform="translate(639.7 1122.75) scale(1 1.04)">0.2</text>
<text class="t" text-anchor="middle" transform="translate(694.7 1122.75) scale(1 1.04)">0.4</text>
<text class="t" text-anchor="middle" transform="translate(749.7 1122.75) scale(1 1.04)">0.6</text>
<text class="t" text-anchor="middle" transform="translate(804.7 1122.75) scale(1 1.04)">0.8</text>
<text class="t" text-anchor="middle" transform="translate(859.7 1122.75) scale(1 1.04)">1.0</text>
<text class="t" text-anchor="middle" transform="translate(914.7 1122.75) scale(1 1.04)">1.2</text>
<text class="t" text-anchor="middle" transform="translate(969.7 1122.75) scale(1 1.04)">1.4</text>
<text class="t" text-anchor="end" transform="translate(575.9 1101.05) scale(1 1.04)">0.0</text>
<text class="t" text-anchor="end" transform="translate(575.9 1039.23) scale(1 1.04)">0.5</text>
<text class="t" text-anchor="end" transform="translate(575.9 977.41) scale(1 1.04)">1.0</text>
<text class="t" text-anchor="end" transform="translate(575.9 915.59) scale(1 1.04)">1.5</text>
<text class="t" text-anchor="end" transform="translate(575.9 853.77) scale(1 1.04)">2.0</text>
<text class="t" text-anchor="end" transform="translate(575.9 791.95) scale(1 1.04)">2.5</text>
<text class="t" text-anchor="middle" transform="translate(778.9 1152) scale(1 1.04)">O/C</text>
<text class="t" text-anchor="middle" transform="translate(525.9 937.6) rotate(-90) scale(1 1.04)">H/C</text>
<text class="tl" transform="translate(596.8 812.95) scale(1 1.04)">SFP</text>
<text class="tg" transform="translate(923.6 822.35)">(j)</text>
<rect class="lb" x="800.5" y="1059.5" width="161" height="26"/>
<circle cx="821.6" cy="1073.3" r="3.25" fill="#0000ff" fill-opacity="0.5" stroke="#0000ff" stroke-opacity="0.5" stroke-width="0.5"/>
<text class="lg" transform="translate(841.8 1079.1) scale(1 1.04)">CHON&#160;(<tspan font-style="italic">n=256</tspan>)</text>
</g>
<g id="panel-k">
<g fill="#962626" fill-opacity="0.6" stroke="#962626" stroke-opacity="0.6" stroke-width="0.5">
<circle cx="1259.4" cy="814.8" r="3.25"/><circle cx="1280.3" cy="845.4" r="3.25"/><circle cx="1287.9" cy="845.4" r="3.25"/><circle cx="1146.5" cy="863.3" r="3.25"/><circle cx="1156.5" cy="861.0" r="3.25"/><circle cx="1249.4" cy="860.3" r="3.25"/><circle cx="1259.4" cy="861.0" r="3.25"/><circle cx="1271.3" cy="861.8" r="3.25"/><circle cx="1265.8" cy="874.3" r="3.25"/><circle cx="1281.8" cy="874.5" r="3.25"/><circle cx="1175.4" cy="878.9" r="3.25"/><circle cx="1175.7" cy="884.9" r="3.25"/><circle cx="1176.2" cy="889.4" r="3.25"/><circle cx="1193.4" cy="883.4" r="3.25"/><circle cx="1214.5" cy="883.4" r="3.25"/><circle cx="1213.7" cy="884.2" r="3.25"/><circle cx="1220.1" cy="884.9" r="3.25"/><circle cx="1217.0" cy="889.2" r="3.25"/><circle cx="1225.4" cy="886.4" r="3.25"/><circle cx="1244.7" cy="880.6" r="3.25"/><circle cx="1250.2" cy="890.4" r="3.25"/><circle cx="1293.4" cy="886.6" r="3.25"/><circle cx="1142.5" cy="894.7" r="3.25"/><circle cx="1164.5" cy="894.4" r="3.25"/><circle cx="1163.5" cy="896.4" r="3.25"/><circle cx="1164.1" cy="895.8" r="3.25"/><circle cx="1234.4" cy="894.6" r="3.25"/><circle cx="1230.4" cy="900.5" r="3.25"/><circle cx="1275.8" cy="897.2" r="3.25"/><circle cx="1278.0" cy="902.5" r="3.25"/><circle cx="1284.4" cy="904.5" r="3.25"/><circle cx="1166.3" cy="907.0" r="3.25"/><circle cx="1168.3" cy="908.5" r="3.25"/><circle cx="1168.3" cy="908.4" r="3.25"/><circle cx="1169.5" cy="909.5" r="3.25"/><circle cx="1160.8" cy="911.5" r="3.25"/><circle cx="1238.8" cy="907.3" r="3.25"/><circle cx="1125.3" cy="913.0" r="3.25"/><circle cx="1187.9" cy="912.7" r="3.25"/><circle cx="1153.3" cy="915.5" r="3.25"/><circle cx="1165.8" cy="914.5" r="3.25"/><circle cx="1255.9" cy="913.5" r="3.25"/><circle cx="1362.8" cy="814.8" r="3.25"/><circle cx="1303.8" cy="845.4" r="3.25"/><circle cx="1339.9" cy="845.4" r="3.25"/><circle cx="1323.6" cy="863.3" r="3.25"/><circle cx="1316.6" cy="866.1" r="3.25"/><circle cx="1337.5" cy="868.3" r="3.25"/><circle cx="1362.8" cy="866.1" r="3.25"/><circle cx="1307.6" cy="878.4" r="3.25"/><circle cx="1326.1" cy="878.4" r="3.25"/><circle cx="1320.3" cy="883.6" r="3.25"/><circle cx="1343.2" cy="880.4" r="3.25"/><circle cx="1341.4" cy="882.9" r="3.25"/><circle cx="1341.8" cy="883.6" r="3.25"/><circle cx="1339.7" cy="886.4" r="3.25"/><circle cx="1362.8" cy="883.6" r="3.25"/><circle cx="1307.6" cy="894.7" r="3.25"/><circle cx="1301.5" cy="900.5" r="3.25"/><circle cx="1323.6" cy="898.4" r="3.25"/><circle cx="1341.5" cy="902.3" r="3.25"/><circle cx="1339.9" cy="907.3" r="3.25"/><circle cx="1393.2" cy="900.3" r="3.25"/><circle cx="1397.3" cy="907.3" r="3.25"/><circle cx="1312.6" cy="913.0" r="3.25"/><circle cx="1317.1" cy="914.0" r="3.25"/><circle cx="1362.8" cy="913.0" r="3.25"/><circle cx="1197.5" cy="919.5" r="3.25"/><circle cx="1173.4" cy="922.2" r="3.25"/><circle cx="1139.5" cy="922.8" r="3.25"/><circle cx="1150.2" cy="924.0" r="3.25"/><circle cx="1118.3" cy="927.9" r="3.25"/><circle cx="1167.1" cy="927.9" r="3.25"/><circle cx="1166.1" cy="926.7" r="3.25"/><circle cx="1202.5" cy="927.9" r="3.25"/><circle cx="1182.7" cy="930.8" r="3.25"/><circle cx="1183.5" cy="930.6" r="3.25"/><circle cx="1220.6" cy="930.6" r="3.25"/><circle cx="1247.5" cy="925.2" r="3.25"/><circle cx="1252.9" cy="927.6" r="3.25"/><circle cx="1249.4" cy="932.8" r="3.25"/><circle cx="1267.5" cy="930.9" r="3.25"/><circle cx="1175.1" cy="935.3" r="3.25"/><circle cx="1179.4" cy="937.1" r="3.25"/><circle cx="1183.4" cy="940.6" r="3.25"/><circle cx="1139.5" cy="938.3" r="3.25"/><circle cx="1148.9" cy="941.3" r="3.25"/><circle cx="1134.9" cy="944.3" r="3.25"/><circle cx="1152.3" cy="947.3" r="3.25"/><circle cx="1170.3" cy="944.3" r="3.25"/><circle cx="1183.4" cy="944.1" r="3.25"/><circle cx="1188.9" cy="946.1" r="3.25"/><circle cx="1189.6" cy="944.9" r="3.25"/><circle cx="1197.5" cy="944.1" r="3.25"/><circle cx="1195.5" cy="951.2" r="3.25"/><circle cx="1179.4" cy="951.4" r="3.25"/><circle cx="1211.0" cy="947.4" r="3.25"/><circle cx="1199.8" cy="955.2" r="3.25"/><circle cx="1209.8" cy="955.2" r="3.25"/><circle cx="1103.8" cy="947.3" r="3.25"/><circle cx="1122.1" cy="953.4" r="3.25"/><circle cx="1282.6" cy="938.1" r="3.25"/><circle cx="1271.0" cy="941.6" r="3.25"/><circle cx="1289.6" cy="944.3" r="3.25"/><circle cx="1281.8" cy="947.3" r="3.25"/><circle cx="1249.4" cy="947.3" r="3.25"/><circle cx="1256.9" cy="950.2" r="3.25"/><circle cx="1271.3" cy="955.2" r="3.25"/><circle cx="1267.5" cy="959.4" r="3.25"/><circle cx="1246.4" cy="959.4" r="3.25"/><circle cx="1281.8" cy="961.7" r="3.25"/><circle cx="1293.4" cy="959.0" r="3.25"/><circle cx="1268.0" cy="965.0" r="3.25"/><circle cx="1286.4" cy="968.9" r="3.25"/><circle cx="1156.5" cy="968.9" r="3.25"/><circle cx="1202.3" cy="968.9" r="3.25"/><circle cx="1214.3" cy="968.9" r="3.25"/><circle cx="1225.4" cy="968.9" r="3.25"/><circle cx="1242.9" cy="968.9" r="3.25"/><circle cx="1242.7" cy="969.5" r="3.25"/><circle cx="1116.8" cy="975.5" r="3.25"/><circle cx="1126.9" cy="986.8" r="3.25"/><circle cx="1212.5" cy="980.3" r="3.25"/><circle cx="1225.4" cy="979.3" r="3.25"/><circle cx="1219.6" cy="982.8" r="3.25"/><circle cx="1219.1" cy="985.3" r="3.25"/><circle cx="1218.4" cy="986.4" r="3.25"/><circle cx="1225.4" cy="987.5" r="3.25"/><circle cx="1225.4" cy="990.8" r="3.25"/><circle cx="1226.4" cy="989.7" r="3.25"/><circle cx="1239.3" cy="981.8" r="3.25"/><circle cx="1243.7" cy="977.1" r="3.25"/><circle cx="1244.7" cy="986.8" r="3.25"/><circle cx="1253.4" cy="977.3" r="3.25"/><circle cx="1252.3" cy="977.4" r="3.25"/><circle cx="1260.7" cy="973.3" r="3.25"/><circle cx="1263.8" cy="976.3" r="3.25"/><circle cx="1264.8" cy="976.0" r="3.25"/><circle cx="1265.8" cy="977.3" r="3.25"/><circle cx="1275.8" cy="975.3" r="3.25"/><circle cx="1281.8" cy="976.3" r="3.25"/><circle cx="1289.9" cy="976.3" r="3.25"/><circle cx="1289.2" cy="976.1" r="3.25"/><circle cx="1259.7" cy="983.8" r="3.25"/><circle cx="1258.6" cy="983.1" r="3.25"/><circle cx="1271.3" cy="982.8" r="3.25"/><circle cx="1271.1" cy="982.8" r="3.25"/><circle cx="1280.3" cy="981.8" r="3.25"/><circle cx="1286.4" cy="982.8" r="3.25"/><circle cx="1293.4" cy="984.3" r="3.25"/><circle cx="1266.8" cy="988.8" r="3.25"/><circle cx="1266.1" cy="988.2" r="3.25"/><circle cx="1275.8" cy="988.3" r="3.25"/><circle cx="1281.8" cy="990.8" r="3.25"/><circle cx="1281.2" cy="990.7" r="3.25"/><circle cx="1250.7" cy="991.8" r="3.25"/><circle cx="1250.2" cy="990.7" r="3.25"/><circle cx="1253.7" cy="994.4" r="3.25"/><circle cx="1254.5" cy="994.5" r="3.25"/><circle cx="1256.7" cy="997.4" r="3.25"/><circle cx="1257.1" cy="996.6" r="3.25"/><circle cx="1259.2" cy="1000.4" r="3.25"/><circle cx="1260.4" cy="1001.2" r="3.25"/><circle cx="1267.8" cy="997.4" r="3.25"/><circle cx="1271.3" cy="993.9" r="3.25"/><circle cx="1280.3" cy="994.4" r="3.25"/><circle cx="1290.4" cy="994.4" r="3.25"/><circle cx="1289.5" cy="994.0" r="3.25"/><circle cx="1263.8" cy="1004.4" r="3.25"/><circle cx="1257.7" cy="1006.9" r="3.25"/><circle cx="1193.4" cy="997.9" r="3.25"/><circle cx="1185.9" cy="1004.7" r="3.25"/><circle cx="1205.5" cy="1004.7" r="3.25"/><circle cx="1218.6" cy="998.6" r="3.25"/><circle cx="1225.4" cy="1003.2" r="3.25"/><circle cx="1216.2" cy="1010.6" r="3.25"/><circle cx="1241.9" cy="1004.4" r="3.25"/><circle cx="1252.7" cy="1004.4" r="3.25"/><circle cx="1274.8" cy="1004.4" r="3.25"/><circle cx="1283.8" cy="1004.9" r="3.25"/><circle cx="1284.4" cy="1005.4" r="3.25"/><circle cx="1232.6" cy="1010.4" r="3.25"/><circle cx="1233.7" cy="1010.2" r="3.25"/><circle cx="1235.6" cy="1010.9" r="3.25"/><circle cx="1236.4" cy="1011.3" r="3.25"/><circle cx="1252.2" cy="1010.7" r="3.25"/><circle cx="1271.0" cy="1010.4" r="3.25"/><circle cx="1270.5" cy="1010.6" r="3.25"/><circle cx="1283.8" cy="1010.4" r="3.25"/><circle cx="1284.8" cy="1011.3" r="3.25"/><circle cx="1289.9" cy="1010.4" r="3.25"/><circle cx="1238.6" cy="1017.5" r="3.25"/><circle cx="1238.7" cy="1017.7" r="3.25"/><circle cx="1243.7" cy="1018.0" r="3.25"/><circle cx="1255.2" cy="1018.0" r="3.25"/><circle cx="1263.8" cy="1014.2" r="3.25"/><circle cx="1267.5" cy="1018.0" r="3.25"/><circle cx="1276.8" cy="1015.4" r="3.25"/><circle cx="1278.8" cy="1017.5" r="3.25"/><circle cx="1277.7" cy="1016.8" r="3.25"/><circle cx="1291.9" cy="1016.5" r="3.25"/><circle cx="1292.6" cy="1016.2" r="3.25"/><circle cx="1284.4" cy="1022.5" r="3.25"/><circle cx="1156.5" cy="1015.6" r="3.25"/><circle cx="1173.6" cy="1015.6" r="3.25"/><circle cx="1225.4" cy="1019.5" r="3.25"/><circle cx="1224.6" cy="1019.6" r="3.25"/><circle cx="1225.4" cy="1025.0" r="3.25"/><circle cx="1209.8" cy="1024.5" r="3.25"/><circle cx="1232.6" cy="1028.0" r="3.25"/><circle cx="1239.1" cy="1030.5" r="3.25"/><circle cx="1250.4" cy="1025.5" r="3.25"/><circle cx="1252.7" cy="1030.5" r="3.25"/><circle cx="1262.6" cy="1025.5" r="3.25"/><circle cx="1266.3" cy="1030.5" r="3.25"/><circle cx="1280.3" cy="1030.5" r="3.25"/><circle cx="1362.9" cy="919.8" r="3.25"/><circle cx="1362.9" cy="935.3" r="3.25"/><circle cx="1362.9" cy="944.4" r="3.25"/><circle cx="1312.9" cy="935.3" r="3.25"/><circle cx="1321.5" cy="944.3" r="3.25"/><circle cx="1303.9" cy="951.4" r="3.25"/><circle cx="1332.4" cy="955.2" r="3.25"/><circle cx="1312.9" cy="957.5" r="3.25"/><circle cx="1307.6" cy="960.9" r="3.25"/><circle cx="1311.3" cy="968.9" r="3.25"/><circle cx="1335.4" cy="968.9" r="3.25"/><circle cx="1344.5" cy="968.9" r="3.25"/><circle cx="1345.0" cy="969.4" r="3.25"/><circle cx="1362.9" cy="969.0" r="3.25"/><circle cx="1344.5" cy="977.3" r="3.25"/><circle cx="1298.1" cy="976.3" r="3.25"/><circle cx="1309.1" cy="975.8" r="3.25"/><circle cx="1308.8" cy="975.6" r="3.25"/><circle cx="1320.7" cy="978.1" r="3.25"/><circle cx="1321.2" cy="981.3" r="3.25"/><circle cx="1332.4" cy="982.5" r="3.25"/><circle cx="1311.1" cy="984.8" r="3.25"/><circle cx="1311.1" cy="985.5" r="3.25"/><circle cx="1303.9" cy="986.3" r="3.25"/><circle cx="1318.7" cy="988.8" r="3.25"/><circle cx="1318.7" cy="988.6" r="3.25"/><circle cx="1312.6" cy="991.3" r="3.25"/><circle cx="1299.6" cy="990.8" r="3.25"/><circle cx="1299.5" cy="989.7" r="3.25"/><circle cx="1330.4" cy="990.8" r="3.25"/><circle cx="1307.6" cy="994.2" r="3.25"/><circle cx="1316.6" cy="996.4" r="3.25"/><circle cx="1298.9" cy="998.4" r="3.25"/><circle cx="1297.8" cy="998.9" r="3.25"/><circle cx="1328.4" cy="1000.6" r="3.25"/><circle cx="1319.7" cy="1002.1" r="3.25"/><circle cx="1302.1" cy="1003.9" r="3.25"/><circle cx="1303.2" cy="1004.1" r="3.25"/><circle cx="1314.3" cy="1005.9" r="3.25"/><circle cx="1343.3" cy="1004.7" r="3.25"/><circle cx="1297.4" cy="1010.4" r="3.25"/><circle cx="1326.4" cy="1010.4" r="3.25"/><circle cx="1304.9" cy="1015.1" r="3.25"/><circle cx="1328.4" cy="1015.9" r="3.25"/><circle cx="1314.3" cy="1020.5" r="3.25"/><circle cx="1298.1" cy="1021.5" r="3.25"/><circle cx="1297.8" cy="1020.7" r="3.25"/><circle cx="1301.6" cy="1024.5" r="3.25"/>
</g>
<path class="d" d="M1086.7 846.12H1472.7M1086.7 907.39H1472.7M1086.7 954.23L1472.7 997.13M1086.7 1012.09L1472.7 1030.76"/>
<path class="ax" d="M1087.7 783.2H1472.7V1092.3H1087.7ZM1087.7 1092.3v5.3M1142.7 1092.3v5.3M1197.7 1092.3v5.3M1252.7 1092.3v5.3M1307.7 1092.3v5.3M1362.7 1092.3v5.3M1417.7 1092.3v5.3M1472.7 1092.3v5.3M1087.7 1092.3h-5.3M1087.7 1030.5h-5.3M1087.7 968.7h-5.3M1087.7 906.9h-5.3M1087.7 845.1h-5.3M1087.7 783.2h-5.3"/>
<text class="t" text-anchor="middle" transform="translate(1087.8 1122.75) scale(1 1.04)">0.0</text>
<text class="t" text-anchor="middle" transform="translate(1142.8 1122.75) scale(1 1.04)">0.2</text>
<text class="t" text-anchor="middle" transform="translate(1197.8 1122.75) scale(1 1.04)">0.4</text>
<text class="t" text-anchor="middle" transform="translate(1252.8 1122.75) scale(1 1.04)">0.6</text>
<text class="t" text-anchor="middle" transform="translate(1307.8 1122.75) scale(1 1.04)">0.8</text>
<text class="t" text-anchor="middle" transform="translate(1362.8 1122.75) scale(1 1.04)">1.0</text>
<text class="t" text-anchor="middle" transform="translate(1417.8 1122.75) scale(1 1.04)">1.2</text>
<text class="t" text-anchor="middle" transform="translate(1472.8 1122.75) scale(1 1.04)">1.4</text>
<text class="t" text-anchor="end" transform="translate(1079 1101.05) scale(1 1.04)">0.0</text>
<text class="t" text-anchor="end" transform="translate(1079 1039.23) scale(1 1.04)">0.5</text>
<text class="t" text-anchor="end" transform="translate(1079 977.41) scale(1 1.04)">1.0</text>
<text class="t" text-anchor="end" transform="translate(1079 915.59) scale(1 1.04)">1.5</text>
<text class="t" text-anchor="end" transform="translate(1079 853.77) scale(1 1.04)">2.0</text>
<text class="t" text-anchor="end" transform="translate(1079 791.95) scale(1 1.04)">2.5</text>
<text class="t" text-anchor="middle" transform="translate(1282.95 1152) scale(1 1.04)">O/C</text>
<text class="t" text-anchor="middle" transform="translate(1029 937.6) rotate(-90) scale(1 1.04)">H/C</text>
<text class="tl" transform="translate(1099.9 812.95) scale(1 1.04)">SFP</text>
<text class="tg" transform="translate(1426.7 822.35)">(k)</text>
<rect class="lb" x="1301.5" y="1060.5" width="165" height="25"/>
<circle cx="1323.3" cy="1073.5" r="3.25" fill="#962626" fill-opacity="0.6" stroke="#962626" stroke-opacity="0.6" stroke-width="0.5"/>
<text class="lg" transform="translate(1343 1079.1) scale(1 1.04)" letter-spacing="-0.13">CHOS&#160;&#160;(<tspan font-style="italic">n=255</tspan>)</text>
</g>
<g id="panel-l">
<g fill="#ff7f00" fill-opacity="0.5" stroke="#ff7f00" stroke-opacity="0.5" stroke-width="0.5">
<circle cx="1676.1" cy="826.6" r="3.25"/><circle cx="1729.1" cy="830.1" r="3.25"/><circle cx="1669.8" cy="845.4" r="3.25"/><circle cx="1769.3" cy="845.4" r="3.25"/><circle cx="1658.5" cy="854.5" r="3.25"/><circle cx="1676.1" cy="854.9" r="3.25"/><circle cx="1677.4" cy="861.0" r="3.25"/><circle cx="1689.4" cy="863.2" r="3.25"/><circle cx="1763.3" cy="861.0" r="3.25"/><circle cx="1791.4" cy="856.7" r="3.25"/><circle cx="1694.4" cy="876.3" r="3.25"/><circle cx="1704.7" cy="881.5" r="3.25"/><circle cx="1705.7" cy="886.5" r="3.25"/><circle cx="1736.8" cy="881.8" r="3.25"/><circle cx="1698.3" cy="893.4" r="3.25"/><circle cx="1709.2" cy="898.4" r="3.25"/><circle cx="1713.7" cy="900.4" r="3.25"/><circle cx="1718.4" cy="902.4" r="3.25"/><circle cx="1739.3" cy="892.5" r="3.25"/><circle cx="1741.4" cy="895.9" r="3.25"/><circle cx="1741.4" cy="901.6" r="3.25"/><circle cx="1762.1" cy="900.7" r="3.25"/><circle cx="1792.9" cy="903.1" r="3.25"/><circle cx="1620.1" cy="899.6" r="3.25"/><circle cx="1729.1" cy="907.2" r="3.25"/><circle cx="1741.4" cy="907.4" r="3.25"/><circle cx="1746.2" cy="906.9" r="3.25"/><circle cx="1752.0" cy="907.2" r="3.25"/><circle cx="1737.6" cy="911.4" r="3.25"/><circle cx="1745.2" cy="914.4" r="3.25"/><circle cx="1744.3" cy="915.3" r="3.25"/><circle cx="1774.6" cy="911.4" r="3.25"/><circle cx="1687.4" cy="913.2" r="3.25"/><circle cx="1699.0" cy="915.3" r="3.25"/><circle cx="1704.7" cy="918.3" r="3.25"/><circle cx="1682.9" cy="919.5" r="3.25"/><circle cx="1676.1" cy="921.5" r="3.25"/><circle cx="1720.6" cy="918.0" r="3.25"/><circle cx="1718.4" cy="921.7" r="3.25"/><circle cx="1729.1" cy="917.5" r="3.25"/><circle cx="1729.1" cy="919.5" r="3.25"/><circle cx="1729.7" cy="918.9" r="3.25"/><circle cx="1737.6" cy="919.5" r="3.25"/><circle cx="1742.7" cy="919.7" r="3.25"/><circle cx="1753.7" cy="918.3" r="3.25"/><circle cx="1763.3" cy="922.5" r="3.25"/><circle cx="1768.3" cy="924.7" r="3.25"/><circle cx="1768.3" cy="924.6" r="3.25"/><circle cx="1774.8" cy="923.3" r="3.25"/><circle cx="1644.9" cy="924.3" r="3.25"/><circle cx="1688.4" cy="925.0" r="3.25"/><circle cx="1811.4" cy="853.7" r="3.25"/><circle cx="1816.4" cy="879.0" r="3.25"/><circle cx="1811.4" cy="888.6" r="3.25"/><circle cx="1824.2" cy="892.9" r="3.25"/><circle cx="1827.4" cy="907.2" r="3.25"/><circle cx="1841.7" cy="924.3" r="3.25"/><circle cx="1604.3" cy="939.6" r="3.25"/><circle cx="1650.8" cy="928.5" r="3.25"/><circle cx="1646.2" cy="932.1" r="3.25"/><circle cx="1655.3" cy="931.6" r="3.25"/><circle cx="1657.8" cy="931.6" r="3.25"/><circle cx="1660.3" cy="938.4" r="3.25"/><circle cx="1671.1" cy="929.3" r="3.25"/><circle cx="1653.5" cy="945.1" r="3.25"/><circle cx="1682.9" cy="936.1" r="3.25"/><circle cx="1691.4" cy="930.0" r="3.25"/><circle cx="1698.5" cy="934.6" r="3.25"/><circle cx="1703.5" cy="930.0" r="3.25"/><circle cx="1701.5" cy="940.1" r="3.25"/><circle cx="1718.4" cy="930.8" r="3.25"/><circle cx="1733.4" cy="929.2" r="3.25"/><circle cx="1744.4" cy="927.8" r="3.25"/><circle cx="1770.3" cy="932.1" r="3.25"/><circle cx="1781.8" cy="930.8" r="3.25"/><circle cx="1759.4" cy="934.6" r="3.25"/><circle cx="1682.9" cy="948.4" r="3.25"/><circle cx="1680.2" cy="953.1" r="3.25"/><circle cx="1694.9" cy="945.8" r="3.25"/><circle cx="1695.3" cy="946.5" r="3.25"/><circle cx="1656.0" cy="958.2" r="3.25"/><circle cx="1668.5" cy="957.4" r="3.25"/><circle cx="1641.2" cy="969.2" r="3.25"/><circle cx="1664.3" cy="969.2" r="3.25"/><circle cx="1670.3" cy="969.2" r="3.25"/><circle cx="1674.6" cy="976.8" r="3.25"/><circle cx="1685.7" cy="972.9" r="3.25"/><circle cx="1654.8" cy="978.5" r="3.25"/><circle cx="1650.4" cy="995.8" r="3.25"/><circle cx="1664.5" cy="1002.6" r="3.25"/><circle cx="1670.3" cy="1004.9" r="3.25"/><circle cx="1677.4" cy="992.3" r="3.25"/><circle cx="1683.1" cy="989.3" r="3.25"/><circle cx="1688.4" cy="983.6" r="3.25"/><circle cx="1692.4" cy="982.3" r="3.25"/><circle cx="1699.5" cy="983.8" r="3.25"/><circle cx="1697.3" cy="988.3" r="3.25"/><circle cx="1688.4" cy="998.4" r="3.25"/><circle cx="1701.5" cy="997.9" r="3.25"/><circle cx="1701.5" cy="1000.4" r="3.25"/><circle cx="1688.4" cy="1013.2" r="3.25"/><circle cx="1698.3" cy="1017.4" r="3.25"/><circle cx="1715.3" cy="1012.4" r="3.25"/><circle cx="1715.3" cy="1025.3" r="3.25"/><circle cx="1712.0" cy="939.1" r="3.25"/><circle cx="1716.5" cy="940.6" r="3.25"/><circle cx="1722.6" cy="939.6" r="3.25"/><circle cx="1729.1" cy="938.6" r="3.25"/><circle cx="1729.1" cy="941.6" r="3.25"/><circle cx="1737.6" cy="936.1" r="3.25"/><circle cx="1741.7" cy="935.1" r="3.25"/><circle cx="1739.7" cy="940.6" r="3.25"/><circle cx="1738.7" cy="939.5" r="3.25"/><circle cx="1745.7" cy="943.1" r="3.25"/><circle cx="1746.5" cy="942.9" r="3.25"/><circle cx="1748.7" cy="945.1" r="3.25"/><circle cx="1756.2" cy="939.6" r="3.25"/><circle cx="1756.2" cy="944.1" r="3.25"/><circle cx="1774.6" cy="941.4" r="3.25"/><circle cx="1784.4" cy="940.1" r="3.25"/><circle cx="1784.4" cy="944.6" r="3.25"/><circle cx="1709.2" cy="945.1" r="3.25"/><circle cx="1723.6" cy="945.1" r="3.25"/><circle cx="1712.0" cy="949.1" r="3.25"/><circle cx="1697.3" cy="951.1" r="3.25"/><circle cx="1692.4" cy="955.2" r="3.25"/><circle cx="1702.5" cy="954.2" r="3.25"/><circle cx="1705.5" cy="953.1" r="3.25"/><circle cx="1706.1" cy="952.0" r="3.25"/><circle cx="1709.2" cy="957.2" r="3.25"/><circle cx="1718.1" cy="951.1" r="3.25"/><circle cx="1729.1" cy="948.1" r="3.25"/><circle cx="1734.1" cy="952.1" r="3.25"/><circle cx="1734.0" cy="952.7" r="3.25"/><circle cx="1739.7" cy="950.1" r="3.25"/><circle cx="1748.5" cy="951.1" r="3.25"/><circle cx="1762.3" cy="949.1" r="3.25"/><circle cx="1761.6" cy="950.2" r="3.25"/><circle cx="1763.8" cy="953.1" r="3.25"/><circle cx="1774.6" cy="950.1" r="3.25"/><circle cx="1775.6" cy="949.0" r="3.25"/><circle cx="1770.8" cy="955.2" r="3.25"/><circle cx="1792.9" cy="949.3" r="3.25"/><circle cx="1697.5" cy="963.2" r="3.25"/><circle cx="1703.5" cy="960.2" r="3.25"/><circle cx="1712.0" cy="959.2" r="3.25"/><circle cx="1716.5" cy="963.2" r="3.25"/><circle cx="1715.4" cy="963.3" r="3.25"/><circle cx="1724.1" cy="959.2" r="3.25"/><circle cx="1725.1" cy="958.9" r="3.25"/><circle cx="1724.6" cy="961.2" r="3.25"/><circle cx="1729.6" cy="962.2" r="3.25"/><circle cx="1739.7" cy="958.2" r="3.25"/><circle cx="1739.0" cy="958.0" r="3.25"/><circle cx="1738.6" cy="964.2" r="3.25"/><circle cx="1747.7" cy="958.2" r="3.25"/><circle cx="1753.7" cy="959.2" r="3.25"/><circle cx="1753.7" cy="963.2" r="3.25"/><circle cx="1762.3" cy="960.2" r="3.25"/><circle cx="1760.7" cy="964.2" r="3.25"/><circle cx="1770.8" cy="960.2" r="3.25"/><circle cx="1778.8" cy="956.2" r="3.25"/><circle cx="1781.8" cy="959.2" r="3.25"/><circle cx="1780.7" cy="958.5" r="3.25"/><circle cx="1779.8" cy="962.2" r="3.25"/><circle cx="1787.9" cy="960.2" r="3.25"/><circle cx="1697.5" cy="969.2" r="3.25"/><circle cx="1701.5" cy="970.2" r="3.25"/><circle cx="1701.5" cy="974.7" r="3.25"/><circle cx="1701.3" cy="974.7" r="3.25"/><circle cx="1709.5" cy="976.3" r="3.25"/><circle cx="1716.5" cy="974.2" r="3.25"/><circle cx="1722.6" cy="969.2" r="3.25"/><circle cx="1721.9" cy="968.6" r="3.25"/><circle cx="1721.9" cy="969.1" r="3.25"/><circle cx="1729.6" cy="974.2" r="3.25"/><circle cx="1734.1" cy="969.2" r="3.25"/><circle cx="1733.6" cy="968.1" r="3.25"/><circle cx="1740.7" cy="974.2" r="3.25"/><circle cx="1741.5" cy="974.4" r="3.25"/><circle cx="1743.7" cy="976.3" r="3.25"/><circle cx="1751.7" cy="969.2" r="3.25"/><circle cx="1750.2" cy="974.2" r="3.25"/><circle cx="1761.2" cy="969.2" r="3.25"/><circle cx="1761.6" cy="968.5" r="3.25"/><circle cx="1759.7" cy="975.2" r="3.25"/><circle cx="1760.9" cy="976.1" r="3.25"/><circle cx="1769.3" cy="969.2" r="3.25"/><circle cx="1775.8" cy="969.2" r="3.25"/><circle cx="1775.8" cy="975.2" r="3.25"/><circle cx="1774.9" cy="974.8" r="3.25"/><circle cx="1782.8" cy="969.2" r="3.25"/><circle cx="1786.9" cy="969.2" r="3.25"/><circle cx="1790.4" cy="969.2" r="3.25"/><circle cx="1781.8" cy="976.3" r="3.25"/><circle cx="1785.9" cy="976.3" r="3.25"/><circle cx="1716.5" cy="980.3" r="3.25"/><circle cx="1723.6" cy="978.3" r="3.25"/><circle cx="1729.6" cy="979.3" r="3.25"/><circle cx="1736.6" cy="981.3" r="3.25"/><circle cx="1737.2" cy="981.8" r="3.25"/><circle cx="1740.7" cy="980.3" r="3.25"/><circle cx="1741.7" cy="980.1" r="3.25"/><circle cx="1743.7" cy="979.3" r="3.25"/><circle cx="1752.7" cy="983.3" r="3.25"/><circle cx="1756.7" cy="986.3" r="3.25"/><circle cx="1765.8" cy="980.3" r="3.25"/><circle cx="1766.6" cy="980.7" r="3.25"/><circle cx="1765.3" cy="980.5" r="3.25"/><circle cx="1770.8" cy="984.3" r="3.25"/><circle cx="1771.7" cy="985.1" r="3.25"/><circle cx="1775.8" cy="980.3" r="3.25"/><circle cx="1775.8" cy="986.3" r="3.25"/><circle cx="1781.8" cy="988.3" r="3.25"/><circle cx="1790.9" cy="985.8" r="3.25"/><circle cx="1716.5" cy="985.3" r="3.25"/><circle cx="1710.5" cy="989.3" r="3.25"/><circle cx="1710.5" cy="991.8" r="3.25"/><circle cx="1709.2" cy="996.3" r="3.25"/><circle cx="1722.6" cy="990.3" r="3.25"/><circle cx="1729.1" cy="989.3" r="3.25"/><circle cx="1735.6" cy="988.3" r="3.25"/><circle cx="1743.7" cy="989.3" r="3.25"/><circle cx="1749.7" cy="992.3" r="3.25"/><circle cx="1742.7" cy="994.3" r="3.25"/><circle cx="1729.1" cy="994.3" r="3.25"/><circle cx="1729.1" cy="994.5" r="3.25"/><circle cx="1729.1" cy="996.8" r="3.25"/><circle cx="1717.0" cy="995.3" r="3.25"/><circle cx="1715.9" cy="994.7" r="3.25"/><circle cx="1754.7" cy="990.3" r="3.25"/><circle cx="1760.7" cy="992.3" r="3.25"/><circle cx="1765.8" cy="994.3" r="3.25"/><circle cx="1766.5" cy="994.1" r="3.25"/><circle cx="1770.8" cy="996.3" r="3.25"/><circle cx="1776.8" cy="994.3" r="3.25"/><circle cx="1786.9" cy="995.3" r="3.25"/><circle cx="1785.9" cy="998.4" r="3.25"/><circle cx="1733.6" cy="998.4" r="3.25"/><circle cx="1715.0" cy="1000.4" r="3.25"/><circle cx="1719.6" cy="1002.4" r="3.25"/><circle cx="1718.8" cy="1002.5" r="3.25"/><circle cx="1735.6" cy="1000.4" r="3.25"/><circle cx="1739.7" cy="1004.4" r="3.25"/><circle cx="1744.7" cy="1003.4" r="3.25"/><circle cx="1745.2" cy="1003.8" r="3.25"/><circle cx="1745.7" cy="997.3" r="3.25"/><circle cx="1751.7" cy="1000.4" r="3.25"/><circle cx="1756.7" cy="999.4" r="3.25"/><circle cx="1756.7" cy="1003.4" r="3.25"/><circle cx="1756.4" cy="1003.2" r="3.25"/><circle cx="1763.8" cy="1000.4" r="3.25"/><circle cx="1763.8" cy="1001.0" r="3.25"/><circle cx="1767.8" cy="998.4" r="3.25"/><circle cx="1765.8" cy="1004.4" r="3.25"/><circle cx="1774.8" cy="1001.4" r="3.25"/><circle cx="1781.8" cy="1000.4" r="3.25"/><circle cx="1781.9" cy="1000.1" r="3.25"/><circle cx="1787.9" cy="1004.4" r="3.25"/><circle cx="1749.7" cy="1005.4" r="3.25"/><circle cx="1729.1" cy="1010.4" r="3.25"/><circle cx="1735.1" cy="1012.4" r="3.25"/><circle cx="1740.7" cy="1014.4" r="3.25"/><circle cx="1745.7" cy="1009.4" r="3.25"/><circle cx="1751.7" cy="1014.4" r="3.25"/><circle cx="1751.7" cy="1013.3" r="3.25"/><circle cx="1757.7" cy="1008.4" r="3.25"/><circle cx="1759.7" cy="1011.4" r="3.25"/><circle cx="1758.6" cy="1011.9" r="3.25"/><circle cx="1763.8" cy="1014.4" r="3.25"/><circle cx="1770.8" cy="1011.4" r="3.25"/><circle cx="1774.8" cy="1010.4" r="3.25"/><circle cx="1776.0" cy="1010.6" r="3.25"/><circle cx="1781.8" cy="1011.4" r="3.25"/><circle cx="1787.9" cy="1016.4" r="3.25"/><circle cx="1791.9" cy="1008.4" r="3.25"/><circle cx="1722.1" cy="1015.9" r="3.25"/><circle cx="1724.6" cy="1018.4" r="3.25"/><circle cx="1729.1" cy="1020.5" r="3.25"/><circle cx="1728.8" cy="1019.7" r="3.25"/><circle cx="1735.6" cy="1020.5" r="3.25"/><circle cx="1735.6" cy="1021.6" r="3.25"/><circle cx="1735.6" cy="1015.4" r="3.25"/><circle cx="1741.7" cy="1020.5" r="3.25"/><circle cx="1753.2" cy="1019.4" r="3.25"/><circle cx="1753.9" cy="1019.5" r="3.25"/><circle cx="1765.8" cy="1018.4" r="3.25"/><circle cx="1768.8" cy="1020.5" r="3.25"/><circle cx="1778.8" cy="1021.0" r="3.25"/><circle cx="1729.1" cy="1025.5" r="3.25"/><circle cx="1748.4" cy="1028.5" r="3.25"/><circle cx="1756.7" cy="1025.0" r="3.25"/><circle cx="1761.8" cy="1028.5" r="3.25"/><circle cx="1774.6" cy="1026.5" r="3.25"/><circle cx="1787.7" cy="1028.5" r="3.25"/><circle cx="1797.6" cy="938.4" r="3.25"/><circle cx="1798.4" cy="937.7" r="3.25"/><circle cx="1844.1" cy="938.4" r="3.25"/><circle cx="1899.5" cy="940.1" r="3.25"/><circle cx="1808.4" cy="943.1" r="3.25"/><circle cx="1794.0" cy="949.3" r="3.25"/><circle cx="1820.4" cy="948.4" r="3.25"/><circle cx="1835.0" cy="954.5" r="3.25"/><circle cx="1816.4" cy="969.0" r="3.25"/><circle cx="1830.0" cy="969.0" r="3.25"/><circle cx="1854.5" cy="969.0" r="3.25"/><circle cx="1827.4" cy="977.6" r="3.25"/><circle cx="1803.1" cy="978.3" r="3.25"/><circle cx="1794.5" cy="979.8" r="3.25"/><circle cx="1801.1" cy="980.8" r="3.25"/><circle cx="1817.6" cy="982.8" r="3.25"/><circle cx="1817.7" cy="983.9" r="3.25"/><circle cx="1853.1" cy="987.6" r="3.25"/><circle cx="1791.2" cy="986.0" r="3.25"/><circle cx="1797.6" cy="987.5" r="3.25"/><circle cx="1801.1" cy="992.3" r="3.25"/><circle cx="1808.4" cy="995.1" r="3.25"/><circle cx="1803.1" cy="998.2" r="3.25"/><circle cx="1797.6" cy="1000.4" r="3.25"/><circle cx="1817.6" cy="998.4" r="3.25"/><circle cx="1814.6" cy="1008.2" r="3.25"/><circle cx="1792.8" cy="1008.4" r="3.25"/><circle cx="1793.0" cy="1008.3" r="3.25"/><circle cx="1801.8" cy="1013.4" r="3.25"/><circle cx="1768.5" cy="992.5" r="3.25"/><circle cx="1756.3" cy="944.0" r="3.25"/><circle cx="1747.9" cy="953.8" r="3.25"/><circle cx="1760.9" cy="951.5" r="3.25"/><circle cx="1776.1" cy="985.6" r="3.25"/><circle cx="1808.7" cy="988.8" r="3.25"/><circle cx="1773.2" cy="969.1" r="3.25"/><circle cx="1734.8" cy="1006.8" r="3.25"/><circle cx="1755.7" cy="987.0" r="3.25"/><circle cx="1760.0" cy="992.1" r="3.25"/><circle cx="1704.1" cy="938.3" r="3.25"/><circle cx="1766.8" cy="1023.5" r="3.25"/><circle cx="1698.4" cy="960.3" r="3.25"/><circle cx="1757.4" cy="964.2" r="3.25"/><circle cx="1743.0" cy="966.7" r="3.25"/><circle cx="1777.1" cy="975.7" r="3.25"/><circle cx="1755.9" cy="949.4" r="3.25"/><circle cx="1768.6" cy="1010.9" r="3.25"/><circle cx="1767.4" cy="967.4" r="3.25"/><circle cx="1715.9" cy="984.1" r="3.25"/><circle cx="1762.1" cy="969.0" r="3.25"/><circle cx="1686.5" cy="957.5" r="3.25"/><circle cx="1719.0" cy="954.9" r="3.25"/><circle cx="1755.8" cy="951.5" r="3.25"/><circle cx="1742.4" cy="1000.9" r="3.25"/><circle cx="1727.5" cy="971.8" r="3.25"/><circle cx="1766.0" cy="959.9" r="3.25"/><circle cx="1707.2" cy="978.5" r="3.25"/><circle cx="1772.3" cy="936.3" r="3.25"/><circle cx="1739.5" cy="962.6" r="3.25"/><circle cx="1783.7" cy="939.1" r="3.25"/><circle cx="1741.2" cy="941.7" r="3.25"/><circle cx="1720.8" cy="973.0" r="3.25"/><circle cx="1738.3" cy="969.4" r="3.25"/><circle cx="1727.8" cy="939.5" r="3.25"/><circle cx="1773.2" cy="1003.8" r="3.25"/><circle cx="1747.4" cy="965.2" r="3.25"/><circle cx="1784.2" cy="983.4" r="3.25"/><circle cx="1755.3" cy="991.9" r="3.25"/><circle cx="1723.7" cy="955.0" r="3.25"/><circle cx="1750.7" cy="949.1" r="3.25"/><circle cx="1748.9" cy="977.7" r="3.25"/><circle cx="1763.8" cy="983.6" r="3.25"/><circle cx="1710.0" cy="970.0" r="3.25"/><circle cx="1757.6" cy="994.2" r="3.25"/><circle cx="1775.2" cy="967.1" r="3.25"/><circle cx="1742.7" cy="948.0" r="3.25"/><circle cx="1735.1" cy="955.8" r="3.25"/><circle cx="1712.2" cy="966.3" r="3.25"/><circle cx="1775.7" cy="1005.4" r="3.25"/><circle cx="1756.6" cy="970.5" r="3.25"/><circle cx="1757.3" cy="989.3" r="3.25"/><circle cx="1762.8" cy="981.1" r="3.25"/><circle cx="1742.6" cy="967.0" r="3.25"/><circle cx="1808.3" cy="994.7" r="3.25"/><circle cx="1724.5" cy="989.4" r="3.25"/><circle cx="1727.5" cy="978.0" r="3.25"/><circle cx="1734.6" cy="978.7" r="3.25"/><circle cx="1733.7" cy="967.7" r="3.25"/><circle cx="1761.9" cy="985.8" r="3.25"/><circle cx="1699.8" cy="999.1" r="3.25"/><circle cx="1691.3" cy="942.6" r="3.25"/><circle cx="1734.6" cy="984.1" r="3.25"/><circle cx="1746.9" cy="962.4" r="3.25"/><circle cx="1776.9" cy="974.8" r="3.25"/><circle cx="1748.2" cy="990.8" r="3.25"/><circle cx="1730.5" cy="1019.3" r="3.25"/><circle cx="1784.2" cy="973.7" r="3.25"/><circle cx="1751.4" cy="977.8" r="3.25"/><circle cx="1770.2" cy="983.1" r="3.25"/>
</g>
<path class="d" d="M1590.5 846.12H1976.5M1590.5 907.39H1976.5M1590.5 954.23L1976.5 997.13M1590.5 1012.09L1976.5 1030.76"/>
<path class="ax" d="M1591.5 783.2H1976.5V1092.3H1591.5ZM1591.5 1092.3v5.3M1646.5 1092.3v5.3M1701.5 1092.3v5.3M1756.5 1092.3v5.3M1811.5 1092.3v5.3M1866.5 1092.3v5.3M1921.5 1092.3v5.3M1976.5 1092.3v5.3M1591.5 1092.3h-5.3M1591.5 1030.5h-5.3M1591.5 968.7h-5.3M1591.5 906.9h-5.3M1591.5 845.1h-5.3M1591.5 783.2h-5.3"/>
<text class="t" text-anchor="middle" transform="translate(1591.6 1122.75) scale(1 1.04)">0.0</text>
<text class="t" text-anchor="middle" transform="translate(1646.6 1122.75) scale(1 1.04)">0.2</text>
<text class="t" text-anchor="middle" transform="translate(1701.6 1122.75) scale(1 1.04)">0.4</text>
<text class="t" text-anchor="middle" transform="translate(1756.6 1122.75) scale(1 1.04)">0.6</text>
<text class="t" text-anchor="middle" transform="translate(1811.6 1122.75) scale(1 1.04)">0.8</text>
<text class="t" text-anchor="middle" transform="translate(1866.6 1122.75) scale(1 1.04)">1.0</text>
<text class="t" text-anchor="middle" transform="translate(1921.6 1122.75) scale(1 1.04)">1.2</text>
<text class="t" text-anchor="middle" transform="translate(1976.6 1122.75) scale(1 1.04)">1.4</text>
<text class="t" text-anchor="end" transform="translate(1582.8 1101.05) scale(1 1.04)">0.0</text>
<text class="t" text-anchor="end" transform="translate(1582.8 1039.23) scale(1 1.04)">0.5</text>
<text class="t" text-anchor="end" transform="translate(1582.8 977.41) scale(1 1.04)">1.0</text>
<text class="t" text-anchor="end" transform="translate(1582.8 915.59) scale(1 1.04)">1.5</text>
<text class="t" text-anchor="end" transform="translate(1582.8 853.77) scale(1 1.04)">2.0</text>
<text class="t" text-anchor="end" transform="translate(1582.8 791.95) scale(1 1.04)">2.5</text>
<text class="t" text-anchor="middle" transform="translate(1780.95 1152) scale(1 1.04)">O/C</text>
<text class="t" text-anchor="middle" transform="translate(1532.8 937.6) rotate(-90) scale(1 1.04)">H/C</text>
<text class="tl" transform="translate(1603.7 812.95) scale(1 1.04)">SFP</text>
<text class="tg" transform="translate(1930.5 822.35)">(l)</text>
<rect class="lb" x="1794.5" y="1059.5" width="174" height="25"/>
<circle cx="1817.3" cy="1072.5" r="3.25" fill="#ff7f00" fill-opacity="0.5" stroke="#ff7f00" stroke-opacity="0.5" stroke-width="0.5"/>
<text class="lg" transform="translate(1836.8 1078.1) scale(1 1.04)" letter-spacing="-0.1">CHONS&#160;(<tspan font-style="italic">n=398</tspan>)</text>
</g>
</svg></body></html>
